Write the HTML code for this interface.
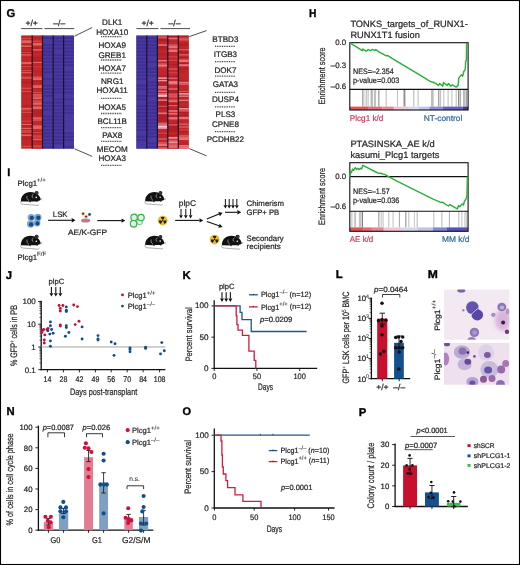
<!DOCTYPE html>
<html><head><meta charset="utf-8"><style>
html,body{margin:0;padding:0;background:#fff;}
svg{display:block;filter:blur(0.3px);text-rendering:geometricPrecision;font-family:"Liberation Sans",sans-serif;}
</style></head><body>
<svg width="520" height="565" viewBox="0 0 520 565" fill="#231f20">
<text x="6.6" y="16.5" font-size="11.3" font-weight="bold" fill="#000" stroke="#000" stroke-width="0.35">G</text>
<rect x="21.4" y="35.6" width="10.800000000000004" height="113.0" fill="#c0272a"/>
<rect x="21.4" y="35.6" width="10.800000000000004" height="1.5" fill="#c4282a"/>
<rect x="21.4" y="37.1" width="10.800000000000004" height="1.0" fill="#c4282a"/>
<rect x="21.4" y="38.1" width="10.800000000000004" height="1.4" fill="#d84a46"/>
<rect x="21.4" y="39.5" width="10.800000000000004" height="0.8" fill="#b82124"/>
<rect x="21.4" y="40.3" width="10.800000000000004" height="3.0" fill="#e4635f"/>
<rect x="21.4" y="43.3" width="10.800000000000004" height="1.0" fill="#c4282a"/>
<rect x="21.4" y="44.3" width="10.800000000000004" height="1.1" fill="#b82124"/>
<rect x="21.4" y="45.4" width="10.800000000000004" height="1.6" fill="#e4635f"/>
<rect x="21.4" y="47.0" width="10.800000000000004" height="1.1" fill="#b82124"/>
<rect x="21.4" y="48.1" width="10.800000000000004" height="2.0" fill="#c4282a"/>
<rect x="21.4" y="50.1" width="10.800000000000004" height="1.0" fill="#c4282a"/>
<rect x="21.4" y="51.1" width="10.800000000000004" height="1.1" fill="#b82124"/>
<rect x="21.4" y="52.2" width="10.800000000000004" height="1.0" fill="#d84a46"/>
<rect x="21.4" y="53.2" width="10.800000000000004" height="1.1" fill="#b82124"/>
<rect x="21.4" y="54.300000000000004" width="10.800000000000004" height="1.2" fill="#e4635f"/>
<rect x="21.4" y="55.50000000000001" width="10.800000000000004" height="1.0" fill="#d84a46"/>
<rect x="21.4" y="56.50000000000001" width="10.800000000000004" height="1.1" fill="#b82124"/>
<rect x="21.4" y="57.60000000000001" width="10.800000000000004" height="1.0" fill="#c4282a"/>
<rect x="21.4" y="58.60000000000001" width="10.800000000000004" height="2.0" fill="#c4282a"/>
<rect x="21.4" y="60.60000000000001" width="10.800000000000004" height="1.5" fill="#c4282a"/>
<rect x="21.4" y="62.10000000000001" width="10.800000000000004" height="2.2" fill="#e4635f"/>
<rect x="21.4" y="64.30000000000001" width="10.800000000000004" height="0.8" fill="#b82124"/>
<rect x="21.4" y="65.10000000000001" width="10.800000000000004" height="1.1" fill="#b82124"/>
<rect x="21.4" y="66.2" width="10.800000000000004" height="1.0" fill="#d84a46"/>
<rect x="21.4" y="67.2" width="10.800000000000004" height="2.0" fill="#c4282a"/>
<rect x="21.4" y="69.2" width="10.800000000000004" height="0.8" fill="#b82124"/>
<rect x="21.4" y="70.0" width="10.800000000000004" height="1.4" fill="#d84a46"/>
<rect x="21.4" y="71.4" width="10.800000000000004" height="0.8" fill="#b82124"/>
<rect x="21.4" y="72.2" width="10.800000000000004" height="1.2" fill="#e4635f"/>
<rect x="21.4" y="73.4" width="10.800000000000004" height="1.0" fill="#c4282a"/>
<rect x="21.4" y="74.4" width="10.800000000000004" height="1.1" fill="#b82124"/>
<rect x="21.4" y="75.5" width="10.800000000000004" height="1.1" fill="#b82124"/>
<rect x="21.4" y="76.6" width="10.800000000000004" height="1.4" fill="#d84a46"/>
<rect x="21.4" y="78.0" width="10.800000000000004" height="1.0" fill="#d84a46"/>
<rect x="21.4" y="79.0" width="10.800000000000004" height="1.1" fill="#b82124"/>
<rect x="21.4" y="80.1" width="10.800000000000004" height="1.0" fill="#c4282a"/>
<rect x="21.4" y="81.1" width="10.800000000000004" height="0.8" fill="#b82124"/>
<rect x="21.4" y="81.89999999999999" width="10.800000000000004" height="1.1" fill="#b82124"/>
<rect x="21.4" y="82.99999999999999" width="10.800000000000004" height="1.1" fill="#b82124"/>
<rect x="21.4" y="84.09999999999998" width="10.800000000000004" height="1.0" fill="#c4282a"/>
<rect x="21.4" y="85.09999999999998" width="10.800000000000004" height="1.0" fill="#c4282a"/>
<rect x="21.4" y="86.09999999999998" width="10.800000000000004" height="1.5" fill="#c4282a"/>
<rect x="21.4" y="87.59999999999998" width="10.800000000000004" height="1.4" fill="#d84a46"/>
<rect x="21.4" y="88.99999999999999" width="10.800000000000004" height="2.0" fill="#c4282a"/>
<rect x="21.4" y="90.99999999999999" width="10.800000000000004" height="1.4" fill="#d84a46"/>
<rect x="21.4" y="92.39999999999999" width="10.800000000000004" height="0.8" fill="#b82124"/>
<rect x="21.4" y="93.19999999999999" width="10.800000000000004" height="1.1" fill="#b82124"/>
<rect x="21.4" y="94.29999999999998" width="10.800000000000004" height="2.0" fill="#c4282a"/>
<rect x="21.4" y="96.29999999999998" width="10.800000000000004" height="1.0" fill="#c4282a"/>
<rect x="21.4" y="97.29999999999998" width="10.800000000000004" height="1.5" fill="#c4282a"/>
<rect x="21.4" y="98.79999999999998" width="10.800000000000004" height="0.8" fill="#b82124"/>
<rect x="21.4" y="99.59999999999998" width="10.800000000000004" height="2.0" fill="#c4282a"/>
<rect x="21.4" y="101.59999999999998" width="10.800000000000004" height="1.5" fill="#c4282a"/>
<rect x="21.4" y="103.09999999999998" width="10.800000000000004" height="1.0" fill="#c4282a"/>
<rect x="21.4" y="104.09999999999998" width="10.800000000000004" height="1.0" fill="#c4282a"/>
<rect x="21.4" y="105.09999999999998" width="10.800000000000004" height="1.1" fill="#b82124"/>
<rect x="21.4" y="106.19999999999997" width="10.800000000000004" height="0.8" fill="#b82124"/>
<rect x="21.4" y="106.99999999999997" width="10.800000000000004" height="1.0" fill="#c4282a"/>
<rect x="21.4" y="107.99999999999997" width="10.800000000000004" height="1.2" fill="#e4635f"/>
<rect x="21.4" y="109.19999999999997" width="10.800000000000004" height="1.4" fill="#d84a46"/>
<rect x="21.4" y="110.59999999999998" width="10.800000000000004" height="1.1" fill="#b82124"/>
<rect x="21.4" y="111.69999999999997" width="10.800000000000004" height="1.4" fill="#d84a46"/>
<rect x="21.4" y="113.09999999999998" width="10.800000000000004" height="1.1" fill="#b82124"/>
<rect x="21.4" y="114.19999999999997" width="10.800000000000004" height="1.5" fill="#c4282a"/>
<rect x="21.4" y="115.69999999999997" width="10.800000000000004" height="1.1" fill="#b82124"/>
<rect x="21.4" y="116.79999999999997" width="10.800000000000004" height="2.0" fill="#c4282a"/>
<rect x="21.4" y="118.79999999999997" width="10.800000000000004" height="2.0" fill="#c4282a"/>
<rect x="21.4" y="120.79999999999997" width="10.800000000000004" height="1.0" fill="#d84a46"/>
<rect x="21.4" y="121.79999999999997" width="10.800000000000004" height="1.0" fill="#c4282a"/>
<rect x="21.4" y="122.79999999999997" width="10.800000000000004" height="1.1" fill="#b82124"/>
<rect x="21.4" y="123.89999999999996" width="10.800000000000004" height="1.2" fill="#e4635f"/>
<rect x="21.4" y="125.09999999999997" width="10.800000000000004" height="1.1" fill="#b82124"/>
<rect x="21.4" y="126.19999999999996" width="10.800000000000004" height="0.8" fill="#b82124"/>
<rect x="21.4" y="126.99999999999996" width="10.800000000000004" height="0.8" fill="#b82124"/>
<rect x="21.4" y="127.79999999999995" width="10.800000000000004" height="1.2" fill="#e4635f"/>
<rect x="21.4" y="128.99999999999994" width="10.800000000000004" height="1.1" fill="#b82124"/>
<rect x="21.4" y="130.09999999999994" width="10.800000000000004" height="1.4" fill="#d84a46"/>
<rect x="21.4" y="131.49999999999994" width="10.800000000000004" height="1.4" fill="#d84a46"/>
<rect x="21.4" y="132.89999999999995" width="10.800000000000004" height="0.8" fill="#b82124"/>
<rect x="21.4" y="133.69999999999996" width="10.800000000000004" height="0.8" fill="#b82124"/>
<rect x="21.4" y="134.49999999999997" width="10.800000000000004" height="1.6" fill="#e4635f"/>
<rect x="21.4" y="136.09999999999997" width="10.800000000000004" height="1.0" fill="#c4282a"/>
<rect x="21.4" y="137.09999999999997" width="10.800000000000004" height="1.1" fill="#b82124"/>
<rect x="21.4" y="138.19999999999996" width="10.800000000000004" height="1.1" fill="#b82124"/>
<rect x="21.4" y="139.29999999999995" width="10.800000000000004" height="1.1" fill="#b82124"/>
<rect x="21.4" y="140.39999999999995" width="10.800000000000004" height="2.0" fill="#c4282a"/>
<rect x="21.4" y="142.39999999999995" width="10.800000000000004" height="1.5" fill="#c4282a"/>
<rect x="21.4" y="143.89999999999995" width="10.800000000000004" height="1.0" fill="#c4282a"/>
<rect x="21.4" y="144.89999999999995" width="10.800000000000004" height="0.8" fill="#b82124"/>
<rect x="21.4" y="145.69999999999996" width="10.800000000000004" height="1.4" fill="#d84a46"/>
<rect x="21.4" y="147.09999999999997" width="10.800000000000004" height="0.8" fill="#b82124"/>
<rect x="21.4" y="147.89999999999998" width="10.800000000000004" height="0.700000000000017" fill="#e4635f"/>
<rect x="32.2" y="35.6" width="10.299999999999997" height="113.0" fill="#c0272a"/>
<rect x="32.2" y="35.6" width="10.299999999999997" height="2.0" fill="#c4282a"/>
<rect x="32.2" y="37.6" width="10.299999999999997" height="1.1" fill="#b82124"/>
<rect x="32.2" y="38.7" width="10.299999999999997" height="2.0" fill="#c4282a"/>
<rect x="32.2" y="40.7" width="10.299999999999997" height="1.4" fill="#d84a46"/>
<rect x="32.2" y="42.1" width="10.299999999999997" height="0.8" fill="#b82124"/>
<rect x="32.2" y="42.9" width="10.299999999999997" height="2.2" fill="#e4635f"/>
<rect x="32.2" y="45.1" width="10.299999999999997" height="1.0" fill="#d84a46"/>
<rect x="32.2" y="46.1" width="10.299999999999997" height="1.5" fill="#c4282a"/>
<rect x="32.2" y="47.6" width="10.299999999999997" height="0.8" fill="#b82124"/>
<rect x="32.2" y="48.4" width="10.299999999999997" height="0.8" fill="#b82124"/>
<rect x="32.2" y="49.199999999999996" width="10.299999999999997" height="1.6" fill="#e4635f"/>
<rect x="32.2" y="50.8" width="10.299999999999997" height="0.8" fill="#b82124"/>
<rect x="32.2" y="51.599999999999994" width="10.299999999999997" height="1.1" fill="#b82124"/>
<rect x="32.2" y="52.699999999999996" width="10.299999999999997" height="1.0" fill="#c4282a"/>
<rect x="32.2" y="53.699999999999996" width="10.299999999999997" height="2.0" fill="#c4282a"/>
<rect x="32.2" y="55.699999999999996" width="10.299999999999997" height="1.0" fill="#c4282a"/>
<rect x="32.2" y="56.699999999999996" width="10.299999999999997" height="1.1" fill="#b82124"/>
<rect x="32.2" y="57.8" width="10.299999999999997" height="1.1" fill="#b82124"/>
<rect x="32.2" y="58.9" width="10.299999999999997" height="0.8" fill="#b82124"/>
<rect x="32.2" y="59.699999999999996" width="10.299999999999997" height="1.1" fill="#b82124"/>
<rect x="32.2" y="60.8" width="10.299999999999997" height="1.1" fill="#b82124"/>
<rect x="32.2" y="61.9" width="10.299999999999997" height="1.2" fill="#e4635f"/>
<rect x="32.2" y="63.1" width="10.299999999999997" height="1.5" fill="#c4282a"/>
<rect x="32.2" y="64.6" width="10.299999999999997" height="1.0" fill="#c4282a"/>
<rect x="32.2" y="65.6" width="10.299999999999997" height="0.8" fill="#b82124"/>
<rect x="32.2" y="66.39999999999999" width="10.299999999999997" height="1.0" fill="#d84a46"/>
<rect x="32.2" y="67.39999999999999" width="10.299999999999997" height="2.0" fill="#c4282a"/>
<rect x="32.2" y="69.39999999999999" width="10.299999999999997" height="1.0" fill="#c4282a"/>
<rect x="32.2" y="70.39999999999999" width="10.299999999999997" height="1.0" fill="#c4282a"/>
<rect x="32.2" y="71.39999999999999" width="10.299999999999997" height="1.1" fill="#b82124"/>
<rect x="32.2" y="72.49999999999999" width="10.299999999999997" height="1.5" fill="#c4282a"/>
<rect x="32.2" y="73.99999999999999" width="10.299999999999997" height="1.5" fill="#c4282a"/>
<rect x="32.2" y="75.49999999999999" width="10.299999999999997" height="0.8" fill="#b82124"/>
<rect x="32.2" y="76.29999999999998" width="10.299999999999997" height="1.0" fill="#d84a46"/>
<rect x="32.2" y="77.29999999999998" width="10.299999999999997" height="3.0" fill="#e4635f"/>
<rect x="32.2" y="80.29999999999998" width="10.299999999999997" height="0.8" fill="#b82124"/>
<rect x="32.2" y="81.09999999999998" width="10.299999999999997" height="0.8" fill="#b82124"/>
<rect x="32.2" y="81.89999999999998" width="10.299999999999997" height="1.0" fill="#c4282a"/>
<rect x="32.2" y="82.89999999999998" width="10.299999999999997" height="0.8" fill="#b82124"/>
<rect x="32.2" y="83.69999999999997" width="10.299999999999997" height="1.5" fill="#c4282a"/>
<rect x="32.2" y="85.19999999999997" width="10.299999999999997" height="3.0" fill="#e4635f"/>
<rect x="32.2" y="88.19999999999997" width="10.299999999999997" height="0.8" fill="#b82124"/>
<rect x="32.2" y="88.99999999999997" width="10.299999999999997" height="2.0" fill="#c4282a"/>
<rect x="32.2" y="90.99999999999997" width="10.299999999999997" height="1.0" fill="#c4282a"/>
<rect x="32.2" y="91.99999999999997" width="10.299999999999997" height="1.4" fill="#d84a46"/>
<rect x="32.2" y="93.39999999999998" width="10.299999999999997" height="0.8" fill="#b82124"/>
<rect x="32.2" y="94.19999999999997" width="10.299999999999997" height="1.6" fill="#e4635f"/>
<rect x="32.2" y="95.79999999999997" width="10.299999999999997" height="1.4" fill="#d84a46"/>
<rect x="32.2" y="97.19999999999997" width="10.299999999999997" height="2.2" fill="#e4635f"/>
<rect x="32.2" y="99.39999999999998" width="10.299999999999997" height="1.1" fill="#b82124"/>
<rect x="32.2" y="100.49999999999997" width="10.299999999999997" height="1.2" fill="#e4635f"/>
<rect x="32.2" y="101.69999999999997" width="10.299999999999997" height="1.0" fill="#d84a46"/>
<rect x="32.2" y="102.69999999999997" width="10.299999999999997" height="2.2" fill="#e4635f"/>
<rect x="32.2" y="104.89999999999998" width="10.299999999999997" height="1.5" fill="#c4282a"/>
<rect x="32.2" y="106.39999999999998" width="10.299999999999997" height="3.0" fill="#e4635f"/>
<rect x="32.2" y="109.39999999999998" width="10.299999999999997" height="0.8" fill="#b82124"/>
<rect x="32.2" y="110.19999999999997" width="10.299999999999997" height="0.8" fill="#b82124"/>
<rect x="32.2" y="110.99999999999997" width="10.299999999999997" height="1.1" fill="#b82124"/>
<rect x="32.2" y="112.09999999999997" width="10.299999999999997" height="0.8" fill="#b82124"/>
<rect x="32.2" y="112.89999999999996" width="10.299999999999997" height="0.8" fill="#b82124"/>
<rect x="32.2" y="113.69999999999996" width="10.299999999999997" height="0.8" fill="#b82124"/>
<rect x="32.2" y="114.49999999999996" width="10.299999999999997" height="1.1" fill="#b82124"/>
<rect x="32.2" y="115.59999999999995" width="10.299999999999997" height="0.8" fill="#b82124"/>
<rect x="32.2" y="116.39999999999995" width="10.299999999999997" height="1.0" fill="#c4282a"/>
<rect x="32.2" y="117.39999999999995" width="10.299999999999997" height="2.2" fill="#e4635f"/>
<rect x="32.2" y="119.59999999999995" width="10.299999999999997" height="1.4" fill="#d84a46"/>
<rect x="32.2" y="120.99999999999996" width="10.299999999999997" height="2.0" fill="#c4282a"/>
<rect x="32.2" y="122.99999999999996" width="10.299999999999997" height="2.0" fill="#c4282a"/>
<rect x="32.2" y="124.99999999999996" width="10.299999999999997" height="1.0" fill="#d84a46"/>
<rect x="32.2" y="125.99999999999996" width="10.299999999999997" height="3.0" fill="#e4635f"/>
<rect x="32.2" y="128.99999999999994" width="10.299999999999997" height="2.0" fill="#c4282a"/>
<rect x="32.2" y="130.99999999999994" width="10.299999999999997" height="1.1" fill="#b82124"/>
<rect x="32.2" y="132.09999999999994" width="10.299999999999997" height="1.0" fill="#d84a46"/>
<rect x="32.2" y="133.09999999999994" width="10.299999999999997" height="0.8" fill="#b82124"/>
<rect x="32.2" y="133.89999999999995" width="10.299999999999997" height="1.5" fill="#c4282a"/>
<rect x="32.2" y="135.39999999999995" width="10.299999999999997" height="1.0" fill="#d84a46"/>
<rect x="32.2" y="136.39999999999995" width="10.299999999999997" height="1.4" fill="#d84a46"/>
<rect x="32.2" y="137.79999999999995" width="10.299999999999997" height="1.0" fill="#c4282a"/>
<rect x="32.2" y="138.79999999999995" width="10.299999999999997" height="1.6" fill="#e4635f"/>
<rect x="32.2" y="140.39999999999995" width="10.299999999999997" height="1.1" fill="#b82124"/>
<rect x="32.2" y="141.49999999999994" width="10.299999999999997" height="0.8" fill="#b82124"/>
<rect x="32.2" y="142.29999999999995" width="10.299999999999997" height="1.0" fill="#c4282a"/>
<rect x="32.2" y="143.29999999999995" width="10.299999999999997" height="1.5" fill="#c4282a"/>
<rect x="32.2" y="144.79999999999995" width="10.299999999999997" height="0.8" fill="#b82124"/>
<rect x="32.2" y="145.59999999999997" width="10.299999999999997" height="1.2" fill="#e4635f"/>
<rect x="32.2" y="146.79999999999995" width="10.299999999999997" height="1.8000000000000398" fill="#c4282a"/>
<rect x="42.5" y="35.6" width="10.700000000000003" height="113.0" fill="#45349a"/>
<rect x="42.5" y="35.6" width="10.700000000000003" height="1.7" fill="#4a399f"/>
<rect x="42.5" y="37.300000000000004" width="10.700000000000003" height="1.7" fill="#3f2f95"/>
<rect x="42.5" y="39.00000000000001" width="10.700000000000003" height="1.7" fill="#4a399f"/>
<rect x="42.5" y="40.70000000000001" width="10.700000000000003" height="1.7" fill="#4c3ca2"/>
<rect x="42.5" y="42.40000000000001" width="10.700000000000003" height="1.7" fill="#4c3ca2"/>
<rect x="42.5" y="44.100000000000016" width="10.700000000000003" height="1.7" fill="#3f2f95"/>
<rect x="42.5" y="45.80000000000002" width="10.700000000000003" height="1.7" fill="#4a399f"/>
<rect x="42.5" y="47.50000000000002" width="10.700000000000003" height="1.7" fill="#3f2f95"/>
<rect x="42.5" y="49.200000000000024" width="10.700000000000003" height="1.7" fill="#4a399f"/>
<rect x="42.5" y="50.90000000000003" width="10.700000000000003" height="1.7" fill="#3f2f95"/>
<rect x="42.5" y="52.60000000000003" width="10.700000000000003" height="1.7" fill="#4a399f"/>
<rect x="42.5" y="54.30000000000003" width="10.700000000000003" height="1.7" fill="#3f2f95"/>
<rect x="42.5" y="56.000000000000036" width="10.700000000000003" height="1.7" fill="#4c3ca2"/>
<rect x="42.5" y="57.70000000000004" width="10.700000000000003" height="1.7" fill="#3f2f95"/>
<rect x="42.5" y="59.40000000000004" width="10.700000000000003" height="1.7" fill="#4a399f"/>
<rect x="42.5" y="61.100000000000044" width="10.700000000000003" height="1.7" fill="#3f2f95"/>
<rect x="42.5" y="62.80000000000005" width="10.700000000000003" height="1.7" fill="#4c3ca2"/>
<rect x="42.5" y="64.50000000000004" width="10.700000000000003" height="1.7" fill="#3f2f95"/>
<rect x="42.5" y="66.20000000000005" width="10.700000000000003" height="1.7" fill="#4c3ca2"/>
<rect x="42.5" y="67.90000000000005" width="10.700000000000003" height="1.7" fill="#3f2f95"/>
<rect x="42.5" y="69.60000000000005" width="10.700000000000003" height="1.7" fill="#4a399f"/>
<rect x="42.5" y="71.30000000000005" width="10.700000000000003" height="1.7" fill="#3f2f95"/>
<rect x="42.5" y="73.00000000000006" width="10.700000000000003" height="1.7" fill="#4a399f"/>
<rect x="42.5" y="74.70000000000006" width="10.700000000000003" height="1.7" fill="#4c3ca2"/>
<rect x="42.5" y="76.40000000000006" width="10.700000000000003" height="1.7" fill="#4c3ca2"/>
<rect x="42.5" y="78.10000000000007" width="10.700000000000003" height="1.7" fill="#3f2f95"/>
<rect x="42.5" y="79.80000000000007" width="10.700000000000003" height="1.7" fill="#4a399f"/>
<rect x="42.5" y="81.50000000000007" width="10.700000000000003" height="1.7" fill="#4c3ca2"/>
<rect x="42.5" y="83.20000000000007" width="10.700000000000003" height="1.7" fill="#4a399f"/>
<rect x="42.5" y="84.90000000000008" width="10.700000000000003" height="1.7" fill="#3f2f95"/>
<rect x="42.5" y="86.60000000000008" width="10.700000000000003" height="1.7" fill="#4c3ca2"/>
<rect x="42.5" y="88.30000000000008" width="10.700000000000003" height="1.7" fill="#3f2f95"/>
<rect x="42.5" y="90.00000000000009" width="10.700000000000003" height="1.7" fill="#4c3ca2"/>
<rect x="42.5" y="91.70000000000009" width="10.700000000000003" height="1.7" fill="#3f2f95"/>
<rect x="42.5" y="93.40000000000009" width="10.700000000000003" height="1.7" fill="#4a399f"/>
<rect x="42.5" y="95.1000000000001" width="10.700000000000003" height="1.7" fill="#3f2f95"/>
<rect x="42.5" y="96.8000000000001" width="10.700000000000003" height="1.7" fill="#4a399f"/>
<rect x="42.5" y="98.5000000000001" width="10.700000000000003" height="1.7" fill="#4c3ca2"/>
<rect x="42.5" y="100.2000000000001" width="10.700000000000003" height="1.7" fill="#4a399f"/>
<rect x="42.5" y="101.9000000000001" width="10.700000000000003" height="1.7" fill="#3f2f95"/>
<rect x="42.5" y="103.60000000000011" width="10.700000000000003" height="1.7" fill="#4a399f"/>
<rect x="42.5" y="105.30000000000011" width="10.700000000000003" height="1.7" fill="#3f2f95"/>
<rect x="42.5" y="107.00000000000011" width="10.700000000000003" height="1.7" fill="#4a399f"/>
<rect x="42.5" y="108.70000000000012" width="10.700000000000003" height="1.7" fill="#3f2f95"/>
<rect x="42.5" y="110.40000000000012" width="10.700000000000003" height="1.7" fill="#4a399f"/>
<rect x="42.5" y="112.10000000000012" width="10.700000000000003" height="1.7" fill="#4c3ca2"/>
<rect x="42.5" y="113.80000000000013" width="10.700000000000003" height="1.7" fill="#4a399f"/>
<rect x="42.5" y="115.50000000000013" width="10.700000000000003" height="1.7" fill="#3f2f95"/>
<rect x="42.5" y="117.20000000000013" width="10.700000000000003" height="1.7" fill="#4a399f"/>
<rect x="42.5" y="118.90000000000013" width="10.700000000000003" height="1.7" fill="#3f2f95"/>
<rect x="42.5" y="120.60000000000014" width="10.700000000000003" height="1.7" fill="#4a399f"/>
<rect x="42.5" y="122.30000000000014" width="10.700000000000003" height="1.7" fill="#3f2f95"/>
<rect x="42.5" y="124.00000000000014" width="10.700000000000003" height="1.7" fill="#4a399f"/>
<rect x="42.5" y="125.70000000000014" width="10.700000000000003" height="1.7" fill="#3f2f95"/>
<rect x="42.5" y="127.40000000000015" width="10.700000000000003" height="1.7" fill="#4c3ca2"/>
<rect x="42.5" y="129.10000000000014" width="10.700000000000003" height="1.7" fill="#3f2f95"/>
<rect x="42.5" y="130.80000000000013" width="10.700000000000003" height="1.7" fill="#4a399f"/>
<rect x="42.5" y="132.5000000000001" width="10.700000000000003" height="1.7" fill="#3f2f95"/>
<rect x="42.5" y="134.2000000000001" width="10.700000000000003" height="1.7" fill="#4a399f"/>
<rect x="42.5" y="135.9000000000001" width="10.700000000000003" height="1.7" fill="#3f2f95"/>
<rect x="42.5" y="137.60000000000008" width="10.700000000000003" height="1.7" fill="#4c3ca2"/>
<rect x="42.5" y="139.30000000000007" width="10.700000000000003" height="1.7" fill="#3f2f95"/>
<rect x="42.5" y="141.00000000000006" width="10.700000000000003" height="1.7" fill="#4a399f"/>
<rect x="42.5" y="142.70000000000005" width="10.700000000000003" height="1.7" fill="#3f2f95"/>
<rect x="42.5" y="144.40000000000003" width="10.700000000000003" height="1.7" fill="#4a399f"/>
<rect x="42.5" y="146.10000000000002" width="10.700000000000003" height="1.7" fill="#3f2f95"/>
<rect x="42.5" y="147.8" width="10.700000000000003" height="0.799999999999983" fill="#4a399f"/>
<rect x="53.2" y="35.6" width="10.399999999999999" height="113.0" fill="#45349a"/>
<rect x="53.2" y="35.6" width="10.399999999999999" height="1.7" fill="#4a399f"/>
<rect x="53.2" y="37.300000000000004" width="10.399999999999999" height="1.7" fill="#3f2f95"/>
<rect x="53.2" y="39.00000000000001" width="10.399999999999999" height="1.7" fill="#4a399f"/>
<rect x="53.2" y="40.70000000000001" width="10.399999999999999" height="1.7" fill="#3f2f95"/>
<rect x="53.2" y="42.40000000000001" width="10.399999999999999" height="1.7" fill="#4a399f"/>
<rect x="53.2" y="44.100000000000016" width="10.399999999999999" height="1.7" fill="#3f2f95"/>
<rect x="53.2" y="45.80000000000002" width="10.399999999999999" height="1.7" fill="#4c3ca2"/>
<rect x="53.2" y="47.50000000000002" width="10.399999999999999" height="1.7" fill="#3f2f95"/>
<rect x="53.2" y="49.200000000000024" width="10.399999999999999" height="1.7" fill="#4a399f"/>
<rect x="53.2" y="50.90000000000003" width="10.399999999999999" height="1.7" fill="#4c3ca2"/>
<rect x="53.2" y="52.60000000000003" width="10.399999999999999" height="1.7" fill="#4a399f"/>
<rect x="53.2" y="54.30000000000003" width="10.399999999999999" height="1.7" fill="#3f2f95"/>
<rect x="53.2" y="56.000000000000036" width="10.399999999999999" height="1.7" fill="#4a399f"/>
<rect x="53.2" y="57.70000000000004" width="10.399999999999999" height="1.7" fill="#3f2f95"/>
<rect x="53.2" y="59.40000000000004" width="10.399999999999999" height="1.7" fill="#4a399f"/>
<rect x="53.2" y="61.100000000000044" width="10.399999999999999" height="1.7" fill="#3f2f95"/>
<rect x="53.2" y="62.80000000000005" width="10.399999999999999" height="1.7" fill="#4c3ca2"/>
<rect x="53.2" y="64.50000000000004" width="10.399999999999999" height="1.7" fill="#3f2f95"/>
<rect x="53.2" y="66.20000000000005" width="10.399999999999999" height="1.7" fill="#4c3ca2"/>
<rect x="53.2" y="67.90000000000005" width="10.399999999999999" height="1.7" fill="#3f2f95"/>
<rect x="53.2" y="69.60000000000005" width="10.399999999999999" height="1.7" fill="#4a399f"/>
<rect x="53.2" y="71.30000000000005" width="10.399999999999999" height="1.7" fill="#3f2f95"/>
<rect x="53.2" y="73.00000000000006" width="10.399999999999999" height="1.7" fill="#4a399f"/>
<rect x="53.2" y="74.70000000000006" width="10.399999999999999" height="1.7" fill="#3f2f95"/>
<rect x="53.2" y="76.40000000000006" width="10.399999999999999" height="1.7" fill="#4a399f"/>
<rect x="53.2" y="78.10000000000007" width="10.399999999999999" height="1.7" fill="#3f2f95"/>
<rect x="53.2" y="79.80000000000007" width="10.399999999999999" height="1.7" fill="#4a399f"/>
<rect x="53.2" y="81.50000000000007" width="10.399999999999999" height="1.7" fill="#3f2f95"/>
<rect x="53.2" y="83.20000000000007" width="10.399999999999999" height="1.7" fill="#4a399f"/>
<rect x="53.2" y="84.90000000000008" width="10.399999999999999" height="1.7" fill="#3f2f95"/>
<rect x="53.2" y="86.60000000000008" width="10.399999999999999" height="1.7" fill="#4a399f"/>
<rect x="53.2" y="88.30000000000008" width="10.399999999999999" height="1.7" fill="#3f2f95"/>
<rect x="53.2" y="90.00000000000009" width="10.399999999999999" height="1.7" fill="#4a399f"/>
<rect x="53.2" y="91.70000000000009" width="10.399999999999999" height="1.7" fill="#3f2f95"/>
<rect x="53.2" y="93.40000000000009" width="10.399999999999999" height="1.7" fill="#4a399f"/>
<rect x="53.2" y="95.1000000000001" width="10.399999999999999" height="1.7" fill="#4c3ca2"/>
<rect x="53.2" y="96.8000000000001" width="10.399999999999999" height="1.7" fill="#4a399f"/>
<rect x="53.2" y="98.5000000000001" width="10.399999999999999" height="1.7" fill="#3f2f95"/>
<rect x="53.2" y="100.2000000000001" width="10.399999999999999" height="1.7" fill="#4a399f"/>
<rect x="53.2" y="101.9000000000001" width="10.399999999999999" height="1.7" fill="#3f2f95"/>
<rect x="53.2" y="103.60000000000011" width="10.399999999999999" height="1.7" fill="#4a399f"/>
<rect x="53.2" y="105.30000000000011" width="10.399999999999999" height="1.7" fill="#3f2f95"/>
<rect x="53.2" y="107.00000000000011" width="10.399999999999999" height="1.7" fill="#4c3ca2"/>
<rect x="53.2" y="108.70000000000012" width="10.399999999999999" height="1.7" fill="#3f2f95"/>
<rect x="53.2" y="110.40000000000012" width="10.399999999999999" height="1.7" fill="#4a399f"/>
<rect x="53.2" y="112.10000000000012" width="10.399999999999999" height="1.7" fill="#3f2f95"/>
<rect x="53.2" y="113.80000000000013" width="10.399999999999999" height="1.7" fill="#4a399f"/>
<rect x="53.2" y="115.50000000000013" width="10.399999999999999" height="1.7" fill="#3f2f95"/>
<rect x="53.2" y="117.20000000000013" width="10.399999999999999" height="1.7" fill="#4a399f"/>
<rect x="53.2" y="118.90000000000013" width="10.399999999999999" height="1.7" fill="#3f2f95"/>
<rect x="53.2" y="120.60000000000014" width="10.399999999999999" height="1.7" fill="#4a399f"/>
<rect x="53.2" y="122.30000000000014" width="10.399999999999999" height="1.7" fill="#3f2f95"/>
<rect x="53.2" y="124.00000000000014" width="10.399999999999999" height="1.7" fill="#4c3ca2"/>
<rect x="53.2" y="125.70000000000014" width="10.399999999999999" height="1.7" fill="#3f2f95"/>
<rect x="53.2" y="127.40000000000015" width="10.399999999999999" height="1.7" fill="#4a399f"/>
<rect x="53.2" y="129.10000000000014" width="10.399999999999999" height="1.7" fill="#3f2f95"/>
<rect x="53.2" y="130.80000000000013" width="10.399999999999999" height="1.7" fill="#4a399f"/>
<rect x="53.2" y="132.5000000000001" width="10.399999999999999" height="1.7" fill="#3f2f95"/>
<rect x="53.2" y="134.2000000000001" width="10.399999999999999" height="1.7" fill="#4c3ca2"/>
<rect x="53.2" y="135.9000000000001" width="10.399999999999999" height="1.7" fill="#3f2f95"/>
<rect x="53.2" y="137.60000000000008" width="10.399999999999999" height="1.7" fill="#4a399f"/>
<rect x="53.2" y="139.30000000000007" width="10.399999999999999" height="1.7" fill="#3f2f95"/>
<rect x="53.2" y="141.00000000000006" width="10.399999999999999" height="1.7" fill="#4a399f"/>
<rect x="53.2" y="142.70000000000005" width="10.399999999999999" height="1.7" fill="#3f2f95"/>
<rect x="53.2" y="144.40000000000003" width="10.399999999999999" height="1.7" fill="#4c3ca2"/>
<rect x="53.2" y="146.10000000000002" width="10.399999999999999" height="1.7" fill="#4c3ca2"/>
<rect x="53.2" y="147.8" width="10.399999999999999" height="0.799999999999983" fill="#4a399f"/>
<rect x="63.6" y="35.6" width="10.300000000000004" height="113.0" fill="#45349a"/>
<rect x="63.6" y="35.6" width="10.300000000000004" height="1.7" fill="#4c3ca2"/>
<rect x="63.6" y="37.300000000000004" width="10.300000000000004" height="1.7" fill="#3f2f95"/>
<rect x="63.6" y="39.00000000000001" width="10.300000000000004" height="1.7" fill="#4a399f"/>
<rect x="63.6" y="40.70000000000001" width="10.300000000000004" height="1.7" fill="#3f2f95"/>
<rect x="63.6" y="42.40000000000001" width="10.300000000000004" height="1.7" fill="#4a399f"/>
<rect x="63.6" y="44.100000000000016" width="10.300000000000004" height="1.7" fill="#3f2f95"/>
<rect x="63.6" y="45.80000000000002" width="10.300000000000004" height="1.7" fill="#4a399f"/>
<rect x="63.6" y="47.50000000000002" width="10.300000000000004" height="1.7" fill="#3f2f95"/>
<rect x="63.6" y="49.200000000000024" width="10.300000000000004" height="1.7" fill="#4a399f"/>
<rect x="63.6" y="50.90000000000003" width="10.300000000000004" height="1.7" fill="#3f2f95"/>
<rect x="63.6" y="52.60000000000003" width="10.300000000000004" height="1.7" fill="#4a399f"/>
<rect x="63.6" y="54.30000000000003" width="10.300000000000004" height="1.7" fill="#3f2f95"/>
<rect x="63.6" y="56.000000000000036" width="10.300000000000004" height="1.7" fill="#4c3ca2"/>
<rect x="63.6" y="57.70000000000004" width="10.300000000000004" height="1.7" fill="#3f2f95"/>
<rect x="63.6" y="59.40000000000004" width="10.300000000000004" height="1.7" fill="#4a399f"/>
<rect x="63.6" y="61.100000000000044" width="10.300000000000004" height="1.7" fill="#3f2f95"/>
<rect x="63.6" y="62.80000000000005" width="10.300000000000004" height="1.7" fill="#4a399f"/>
<rect x="63.6" y="64.50000000000004" width="10.300000000000004" height="1.7" fill="#3f2f95"/>
<rect x="63.6" y="66.20000000000005" width="10.300000000000004" height="1.7" fill="#4a399f"/>
<rect x="63.6" y="67.90000000000005" width="10.300000000000004" height="1.7" fill="#4c3ca2"/>
<rect x="63.6" y="69.60000000000005" width="10.300000000000004" height="1.7" fill="#4a399f"/>
<rect x="63.6" y="71.30000000000005" width="10.300000000000004" height="1.7" fill="#3f2f95"/>
<rect x="63.6" y="73.00000000000006" width="10.300000000000004" height="1.7" fill="#4a399f"/>
<rect x="63.6" y="74.70000000000006" width="10.300000000000004" height="1.7" fill="#3f2f95"/>
<rect x="63.6" y="76.40000000000006" width="10.300000000000004" height="1.7" fill="#4c3ca2"/>
<rect x="63.6" y="78.10000000000007" width="10.300000000000004" height="1.7" fill="#3f2f95"/>
<rect x="63.6" y="79.80000000000007" width="10.300000000000004" height="1.7" fill="#4c3ca2"/>
<rect x="63.6" y="81.50000000000007" width="10.300000000000004" height="1.7" fill="#3f2f95"/>
<rect x="63.6" y="83.20000000000007" width="10.300000000000004" height="1.7" fill="#4a399f"/>
<rect x="63.6" y="84.90000000000008" width="10.300000000000004" height="1.7" fill="#3f2f95"/>
<rect x="63.6" y="86.60000000000008" width="10.300000000000004" height="1.7" fill="#4a399f"/>
<rect x="63.6" y="88.30000000000008" width="10.300000000000004" height="1.7" fill="#3f2f95"/>
<rect x="63.6" y="90.00000000000009" width="10.300000000000004" height="1.7" fill="#4a399f"/>
<rect x="63.6" y="91.70000000000009" width="10.300000000000004" height="1.7" fill="#3f2f95"/>
<rect x="63.6" y="93.40000000000009" width="10.300000000000004" height="1.7" fill="#4a399f"/>
<rect x="63.6" y="95.1000000000001" width="10.300000000000004" height="1.7" fill="#4c3ca2"/>
<rect x="63.6" y="96.8000000000001" width="10.300000000000004" height="1.7" fill="#4a399f"/>
<rect x="63.6" y="98.5000000000001" width="10.300000000000004" height="1.7" fill="#3f2f95"/>
<rect x="63.6" y="100.2000000000001" width="10.300000000000004" height="1.7" fill="#4a399f"/>
<rect x="63.6" y="101.9000000000001" width="10.300000000000004" height="1.7" fill="#4c3ca2"/>
<rect x="63.6" y="103.60000000000011" width="10.300000000000004" height="1.7" fill="#4a399f"/>
<rect x="63.6" y="105.30000000000011" width="10.300000000000004" height="1.7" fill="#3f2f95"/>
<rect x="63.6" y="107.00000000000011" width="10.300000000000004" height="1.7" fill="#4a399f"/>
<rect x="63.6" y="108.70000000000012" width="10.300000000000004" height="1.7" fill="#3f2f95"/>
<rect x="63.6" y="110.40000000000012" width="10.300000000000004" height="1.7" fill="#4a399f"/>
<rect x="63.6" y="112.10000000000012" width="10.300000000000004" height="1.7" fill="#3f2f95"/>
<rect x="63.6" y="113.80000000000013" width="10.300000000000004" height="1.7" fill="#4a399f"/>
<rect x="63.6" y="115.50000000000013" width="10.300000000000004" height="1.7" fill="#4c3ca2"/>
<rect x="63.6" y="117.20000000000013" width="10.300000000000004" height="1.7" fill="#4a399f"/>
<rect x="63.6" y="118.90000000000013" width="10.300000000000004" height="1.7" fill="#4c3ca2"/>
<rect x="63.6" y="120.60000000000014" width="10.300000000000004" height="1.7" fill="#4a399f"/>
<rect x="63.6" y="122.30000000000014" width="10.300000000000004" height="1.7" fill="#4c3ca2"/>
<rect x="63.6" y="124.00000000000014" width="10.300000000000004" height="1.7" fill="#4a399f"/>
<rect x="63.6" y="125.70000000000014" width="10.300000000000004" height="1.7" fill="#4c3ca2"/>
<rect x="63.6" y="127.40000000000015" width="10.300000000000004" height="1.7" fill="#4a399f"/>
<rect x="63.6" y="129.10000000000014" width="10.300000000000004" height="1.7" fill="#4c3ca2"/>
<rect x="63.6" y="130.80000000000013" width="10.300000000000004" height="1.7" fill="#4a399f"/>
<rect x="63.6" y="132.5000000000001" width="10.300000000000004" height="1.7" fill="#3f2f95"/>
<rect x="63.6" y="134.2000000000001" width="10.300000000000004" height="1.7" fill="#4a399f"/>
<rect x="63.6" y="135.9000000000001" width="10.300000000000004" height="1.7" fill="#3f2f95"/>
<rect x="63.6" y="137.60000000000008" width="10.300000000000004" height="1.7" fill="#4a399f"/>
<rect x="63.6" y="139.30000000000007" width="10.300000000000004" height="1.7" fill="#3f2f95"/>
<rect x="63.6" y="141.00000000000006" width="10.300000000000004" height="1.7" fill="#4a399f"/>
<rect x="63.6" y="142.70000000000005" width="10.300000000000004" height="1.7" fill="#4c3ca2"/>
<rect x="63.6" y="144.40000000000003" width="10.300000000000004" height="1.7" fill="#4a399f"/>
<rect x="63.6" y="146.10000000000002" width="10.300000000000004" height="1.7" fill="#3f2f95"/>
<rect x="63.6" y="147.8" width="10.300000000000004" height="0.799999999999983" fill="#4a399f"/>
<line x1="32.2" y1="35.6" x2="32.2" y2="148.6" stroke="#1c1030" stroke-width="1.2"/>
<line x1="42.5" y1="35.6" x2="42.5" y2="148.6" stroke="#1c1030" stroke-width="1.2"/>
<line x1="53.2" y1="35.6" x2="53.2" y2="148.6" stroke="#1c1030" stroke-width="1.2"/>
<line x1="63.6" y1="35.6" x2="63.6" y2="148.6" stroke="#1c1030" stroke-width="1.2"/>
<rect x="136.4" y="35.6" width="10.400000000000006" height="113.0" fill="#45349a"/>
<rect x="136.4" y="35.6" width="10.400000000000006" height="1.7" fill="#4a399f"/>
<rect x="136.4" y="37.300000000000004" width="10.400000000000006" height="1.7" fill="#3f2f95"/>
<rect x="136.4" y="39.00000000000001" width="10.400000000000006" height="1.7" fill="#4a399f"/>
<rect x="136.4" y="40.70000000000001" width="10.400000000000006" height="1.7" fill="#3f2f95"/>
<rect x="136.4" y="42.40000000000001" width="10.400000000000006" height="1.7" fill="#4a399f"/>
<rect x="136.4" y="44.100000000000016" width="10.400000000000006" height="1.7" fill="#3f2f95"/>
<rect x="136.4" y="45.80000000000002" width="10.400000000000006" height="1.7" fill="#4a399f"/>
<rect x="136.4" y="47.50000000000002" width="10.400000000000006" height="1.7" fill="#3f2f95"/>
<rect x="136.4" y="49.200000000000024" width="10.400000000000006" height="1.7" fill="#4a399f"/>
<rect x="136.4" y="50.90000000000003" width="10.400000000000006" height="1.7" fill="#3f2f95"/>
<rect x="136.4" y="52.60000000000003" width="10.400000000000006" height="1.7" fill="#4a399f"/>
<rect x="136.4" y="54.30000000000003" width="10.400000000000006" height="1.7" fill="#3f2f95"/>
<rect x="136.4" y="56.000000000000036" width="10.400000000000006" height="1.7" fill="#4c3ca2"/>
<rect x="136.4" y="57.70000000000004" width="10.400000000000006" height="1.7" fill="#3f2f95"/>
<rect x="136.4" y="59.40000000000004" width="10.400000000000006" height="1.7" fill="#4a399f"/>
<rect x="136.4" y="61.100000000000044" width="10.400000000000006" height="1.7" fill="#3f2f95"/>
<rect x="136.4" y="62.80000000000005" width="10.400000000000006" height="1.7" fill="#4a399f"/>
<rect x="136.4" y="64.50000000000004" width="10.400000000000006" height="1.7" fill="#3f2f95"/>
<rect x="136.4" y="66.20000000000005" width="10.400000000000006" height="1.7" fill="#4a399f"/>
<rect x="136.4" y="67.90000000000005" width="10.400000000000006" height="1.7" fill="#3f2f95"/>
<rect x="136.4" y="69.60000000000005" width="10.400000000000006" height="1.7" fill="#4a399f"/>
<rect x="136.4" y="71.30000000000005" width="10.400000000000006" height="1.7" fill="#3f2f95"/>
<rect x="136.4" y="73.00000000000006" width="10.400000000000006" height="1.7" fill="#4a399f"/>
<rect x="136.4" y="74.70000000000006" width="10.400000000000006" height="1.7" fill="#3f2f95"/>
<rect x="136.4" y="76.40000000000006" width="10.400000000000006" height="1.7" fill="#4c3ca2"/>
<rect x="136.4" y="78.10000000000007" width="10.400000000000006" height="1.7" fill="#3f2f95"/>
<rect x="136.4" y="79.80000000000007" width="10.400000000000006" height="1.7" fill="#4c3ca2"/>
<rect x="136.4" y="81.50000000000007" width="10.400000000000006" height="1.7" fill="#4c3ca2"/>
<rect x="136.4" y="83.20000000000007" width="10.400000000000006" height="1.7" fill="#4a399f"/>
<rect x="136.4" y="84.90000000000008" width="10.400000000000006" height="1.7" fill="#3f2f95"/>
<rect x="136.4" y="86.60000000000008" width="10.400000000000006" height="1.7" fill="#4a399f"/>
<rect x="136.4" y="88.30000000000008" width="10.400000000000006" height="1.7" fill="#3f2f95"/>
<rect x="136.4" y="90.00000000000009" width="10.400000000000006" height="1.7" fill="#4a399f"/>
<rect x="136.4" y="91.70000000000009" width="10.400000000000006" height="1.7" fill="#4c3ca2"/>
<rect x="136.4" y="93.40000000000009" width="10.400000000000006" height="1.7" fill="#4c3ca2"/>
<rect x="136.4" y="95.1000000000001" width="10.400000000000006" height="1.7" fill="#3f2f95"/>
<rect x="136.4" y="96.8000000000001" width="10.400000000000006" height="1.7" fill="#4a399f"/>
<rect x="136.4" y="98.5000000000001" width="10.400000000000006" height="1.7" fill="#3f2f95"/>
<rect x="136.4" y="100.2000000000001" width="10.400000000000006" height="1.7" fill="#4a399f"/>
<rect x="136.4" y="101.9000000000001" width="10.400000000000006" height="1.7" fill="#4c3ca2"/>
<rect x="136.4" y="103.60000000000011" width="10.400000000000006" height="1.7" fill="#4a399f"/>
<rect x="136.4" y="105.30000000000011" width="10.400000000000006" height="1.7" fill="#3f2f95"/>
<rect x="136.4" y="107.00000000000011" width="10.400000000000006" height="1.7" fill="#4c3ca2"/>
<rect x="136.4" y="108.70000000000012" width="10.400000000000006" height="1.7" fill="#3f2f95"/>
<rect x="136.4" y="110.40000000000012" width="10.400000000000006" height="1.7" fill="#4a399f"/>
<rect x="136.4" y="112.10000000000012" width="10.400000000000006" height="1.7" fill="#3f2f95"/>
<rect x="136.4" y="113.80000000000013" width="10.400000000000006" height="1.7" fill="#4a399f"/>
<rect x="136.4" y="115.50000000000013" width="10.400000000000006" height="1.7" fill="#3f2f95"/>
<rect x="136.4" y="117.20000000000013" width="10.400000000000006" height="1.7" fill="#4a399f"/>
<rect x="136.4" y="118.90000000000013" width="10.400000000000006" height="1.7" fill="#3f2f95"/>
<rect x="136.4" y="120.60000000000014" width="10.400000000000006" height="1.7" fill="#4a399f"/>
<rect x="136.4" y="122.30000000000014" width="10.400000000000006" height="1.7" fill="#3f2f95"/>
<rect x="136.4" y="124.00000000000014" width="10.400000000000006" height="1.7" fill="#4a399f"/>
<rect x="136.4" y="125.70000000000014" width="10.400000000000006" height="1.7" fill="#3f2f95"/>
<rect x="136.4" y="127.40000000000015" width="10.400000000000006" height="1.7" fill="#4a399f"/>
<rect x="136.4" y="129.10000000000014" width="10.400000000000006" height="1.7" fill="#3f2f95"/>
<rect x="136.4" y="130.80000000000013" width="10.400000000000006" height="1.7" fill="#4a399f"/>
<rect x="136.4" y="132.5000000000001" width="10.400000000000006" height="1.7" fill="#4c3ca2"/>
<rect x="136.4" y="134.2000000000001" width="10.400000000000006" height="1.7" fill="#4a399f"/>
<rect x="136.4" y="135.9000000000001" width="10.400000000000006" height="1.7" fill="#3f2f95"/>
<rect x="136.4" y="137.60000000000008" width="10.400000000000006" height="1.7" fill="#4a399f"/>
<rect x="136.4" y="139.30000000000007" width="10.400000000000006" height="1.7" fill="#3f2f95"/>
<rect x="136.4" y="141.00000000000006" width="10.400000000000006" height="1.7" fill="#4a399f"/>
<rect x="136.4" y="142.70000000000005" width="10.400000000000006" height="1.7" fill="#4c3ca2"/>
<rect x="136.4" y="144.40000000000003" width="10.400000000000006" height="1.7" fill="#4a399f"/>
<rect x="136.4" y="146.10000000000002" width="10.400000000000006" height="1.7" fill="#4c3ca2"/>
<rect x="136.4" y="147.8" width="10.400000000000006" height="0.799999999999983" fill="#4a399f"/>
<rect x="146.8" y="35.6" width="10.599999999999994" height="113.0" fill="#45349a"/>
<rect x="146.8" y="35.6" width="10.599999999999994" height="1.7" fill="#4a399f"/>
<rect x="146.8" y="37.300000000000004" width="10.599999999999994" height="1.7" fill="#3f2f95"/>
<rect x="146.8" y="39.00000000000001" width="10.599999999999994" height="1.7" fill="#4a399f"/>
<rect x="146.8" y="40.70000000000001" width="10.599999999999994" height="1.7" fill="#3f2f95"/>
<rect x="146.8" y="42.40000000000001" width="10.599999999999994" height="1.7" fill="#4a399f"/>
<rect x="146.8" y="44.100000000000016" width="10.599999999999994" height="1.7" fill="#3f2f95"/>
<rect x="146.8" y="45.80000000000002" width="10.599999999999994" height="1.7" fill="#4a399f"/>
<rect x="146.8" y="47.50000000000002" width="10.599999999999994" height="1.7" fill="#3f2f95"/>
<rect x="146.8" y="49.200000000000024" width="10.599999999999994" height="1.7" fill="#4a399f"/>
<rect x="146.8" y="50.90000000000003" width="10.599999999999994" height="1.7" fill="#3f2f95"/>
<rect x="146.8" y="52.60000000000003" width="10.599999999999994" height="1.7" fill="#4c3ca2"/>
<rect x="146.8" y="54.30000000000003" width="10.599999999999994" height="1.7" fill="#3f2f95"/>
<rect x="146.8" y="56.000000000000036" width="10.599999999999994" height="1.7" fill="#4a399f"/>
<rect x="146.8" y="57.70000000000004" width="10.599999999999994" height="1.7" fill="#4c3ca2"/>
<rect x="146.8" y="59.40000000000004" width="10.599999999999994" height="1.7" fill="#4a399f"/>
<rect x="146.8" y="61.100000000000044" width="10.599999999999994" height="1.7" fill="#3f2f95"/>
<rect x="146.8" y="62.80000000000005" width="10.599999999999994" height="1.7" fill="#4a399f"/>
<rect x="146.8" y="64.50000000000004" width="10.599999999999994" height="1.7" fill="#4c3ca2"/>
<rect x="146.8" y="66.20000000000005" width="10.599999999999994" height="1.7" fill="#4a399f"/>
<rect x="146.8" y="67.90000000000005" width="10.599999999999994" height="1.7" fill="#3f2f95"/>
<rect x="146.8" y="69.60000000000005" width="10.599999999999994" height="1.7" fill="#4a399f"/>
<rect x="146.8" y="71.30000000000005" width="10.599999999999994" height="1.7" fill="#3f2f95"/>
<rect x="146.8" y="73.00000000000006" width="10.599999999999994" height="1.7" fill="#4c3ca2"/>
<rect x="146.8" y="74.70000000000006" width="10.599999999999994" height="1.7" fill="#3f2f95"/>
<rect x="146.8" y="76.40000000000006" width="10.599999999999994" height="1.7" fill="#4a399f"/>
<rect x="146.8" y="78.10000000000007" width="10.599999999999994" height="1.7" fill="#4c3ca2"/>
<rect x="146.8" y="79.80000000000007" width="10.599999999999994" height="1.7" fill="#4a399f"/>
<rect x="146.8" y="81.50000000000007" width="10.599999999999994" height="1.7" fill="#3f2f95"/>
<rect x="146.8" y="83.20000000000007" width="10.599999999999994" height="1.7" fill="#4a399f"/>
<rect x="146.8" y="84.90000000000008" width="10.599999999999994" height="1.7" fill="#3f2f95"/>
<rect x="146.8" y="86.60000000000008" width="10.599999999999994" height="1.7" fill="#4c3ca2"/>
<rect x="146.8" y="88.30000000000008" width="10.599999999999994" height="1.7" fill="#3f2f95"/>
<rect x="146.8" y="90.00000000000009" width="10.599999999999994" height="1.7" fill="#4a399f"/>
<rect x="146.8" y="91.70000000000009" width="10.599999999999994" height="1.7" fill="#3f2f95"/>
<rect x="146.8" y="93.40000000000009" width="10.599999999999994" height="1.7" fill="#4a399f"/>
<rect x="146.8" y="95.1000000000001" width="10.599999999999994" height="1.7" fill="#3f2f95"/>
<rect x="146.8" y="96.8000000000001" width="10.599999999999994" height="1.7" fill="#4a399f"/>
<rect x="146.8" y="98.5000000000001" width="10.599999999999994" height="1.7" fill="#4c3ca2"/>
<rect x="146.8" y="100.2000000000001" width="10.599999999999994" height="1.7" fill="#4a399f"/>
<rect x="146.8" y="101.9000000000001" width="10.599999999999994" height="1.7" fill="#3f2f95"/>
<rect x="146.8" y="103.60000000000011" width="10.599999999999994" height="1.7" fill="#4a399f"/>
<rect x="146.8" y="105.30000000000011" width="10.599999999999994" height="1.7" fill="#3f2f95"/>
<rect x="146.8" y="107.00000000000011" width="10.599999999999994" height="1.7" fill="#4a399f"/>
<rect x="146.8" y="108.70000000000012" width="10.599999999999994" height="1.7" fill="#3f2f95"/>
<rect x="146.8" y="110.40000000000012" width="10.599999999999994" height="1.7" fill="#4a399f"/>
<rect x="146.8" y="112.10000000000012" width="10.599999999999994" height="1.7" fill="#3f2f95"/>
<rect x="146.8" y="113.80000000000013" width="10.599999999999994" height="1.7" fill="#4a399f"/>
<rect x="146.8" y="115.50000000000013" width="10.599999999999994" height="1.7" fill="#3f2f95"/>
<rect x="146.8" y="117.20000000000013" width="10.599999999999994" height="1.7" fill="#4c3ca2"/>
<rect x="146.8" y="118.90000000000013" width="10.599999999999994" height="1.7" fill="#3f2f95"/>
<rect x="146.8" y="120.60000000000014" width="10.599999999999994" height="1.7" fill="#4a399f"/>
<rect x="146.8" y="122.30000000000014" width="10.599999999999994" height="1.7" fill="#3f2f95"/>
<rect x="146.8" y="124.00000000000014" width="10.599999999999994" height="1.7" fill="#4a399f"/>
<rect x="146.8" y="125.70000000000014" width="10.599999999999994" height="1.7" fill="#3f2f95"/>
<rect x="146.8" y="127.40000000000015" width="10.599999999999994" height="1.7" fill="#4a399f"/>
<rect x="146.8" y="129.10000000000014" width="10.599999999999994" height="1.7" fill="#3f2f95"/>
<rect x="146.8" y="130.80000000000013" width="10.599999999999994" height="1.7" fill="#4a399f"/>
<rect x="146.8" y="132.5000000000001" width="10.599999999999994" height="1.7" fill="#3f2f95"/>
<rect x="146.8" y="134.2000000000001" width="10.599999999999994" height="1.7" fill="#4a399f"/>
<rect x="146.8" y="135.9000000000001" width="10.599999999999994" height="1.7" fill="#3f2f95"/>
<rect x="146.8" y="137.60000000000008" width="10.599999999999994" height="1.7" fill="#4c3ca2"/>
<rect x="146.8" y="139.30000000000007" width="10.599999999999994" height="1.7" fill="#4c3ca2"/>
<rect x="146.8" y="141.00000000000006" width="10.599999999999994" height="1.7" fill="#4a399f"/>
<rect x="146.8" y="142.70000000000005" width="10.599999999999994" height="1.7" fill="#3f2f95"/>
<rect x="146.8" y="144.40000000000003" width="10.599999999999994" height="1.7" fill="#4a399f"/>
<rect x="146.8" y="146.10000000000002" width="10.599999999999994" height="1.7" fill="#3f2f95"/>
<rect x="146.8" y="147.8" width="10.599999999999994" height="0.799999999999983" fill="#4a399f"/>
<rect x="157.4" y="35.6" width="10.400000000000006" height="113.0" fill="#c0272a"/>
<rect x="157.4" y="35.6" width="10.400000000000006" height="0.8" fill="#b01f23"/>
<rect x="157.4" y="36.4" width="10.400000000000006" height="2.2" fill="#dc5458"/>
<rect x="157.4" y="38.6" width="10.400000000000006" height="0.8" fill="#b01f23"/>
<rect x="157.4" y="39.4" width="10.400000000000006" height="2.0" fill="#b01f23"/>
<rect x="157.4" y="41.4" width="10.400000000000006" height="1.6" fill="#c0272a"/>
<rect x="157.4" y="43.0" width="10.400000000000006" height="0.8" fill="#b01f23"/>
<rect x="157.4" y="43.8" width="10.400000000000006" height="1.0" fill="#dc5458"/>
<rect x="157.4" y="44.8" width="10.400000000000006" height="1.0" fill="#ec9098"/>
<rect x="157.4" y="45.8" width="10.400000000000006" height="2.0" fill="#b01f23"/>
<rect x="157.4" y="47.8" width="10.400000000000006" height="1.3" fill="#b01f23"/>
<rect x="157.4" y="49.099999999999994" width="10.400000000000006" height="0.8" fill="#b01f23"/>
<rect x="157.4" y="49.89999999999999" width="10.400000000000006" height="1.0" fill="#c0272a"/>
<rect x="157.4" y="50.89999999999999" width="10.400000000000006" height="1.6" fill="#c0272a"/>
<rect x="157.4" y="52.49999999999999" width="10.400000000000006" height="1.0" fill="#c0272a"/>
<rect x="157.4" y="53.49999999999999" width="10.400000000000006" height="2.0" fill="#b01f23"/>
<rect x="157.4" y="55.49999999999999" width="10.400000000000006" height="2.4" fill="#c0272a"/>
<rect x="157.4" y="57.89999999999999" width="10.400000000000006" height="2.0" fill="#b01f23"/>
<rect x="157.4" y="59.89999999999999" width="10.400000000000006" height="1.8" fill="#e4707a"/>
<rect x="157.4" y="61.69999999999999" width="10.400000000000006" height="1.6" fill="#c0272a"/>
<rect x="157.4" y="63.29999999999999" width="10.400000000000006" height="1.6" fill="#dc5458"/>
<rect x="157.4" y="64.89999999999999" width="10.400000000000006" height="1.0" fill="#ec9098"/>
<rect x="157.4" y="65.89999999999999" width="10.400000000000006" height="1.6" fill="#dc5458"/>
<rect x="157.4" y="67.49999999999999" width="10.400000000000006" height="1.0" fill="#c0272a"/>
<rect x="157.4" y="68.49999999999999" width="10.400000000000006" height="1.6" fill="#c0272a"/>
<rect x="157.4" y="70.09999999999998" width="10.400000000000006" height="1.0" fill="#c0272a"/>
<rect x="157.4" y="71.09999999999998" width="10.400000000000006" height="1.6" fill="#c0272a"/>
<rect x="157.4" y="72.69999999999997" width="10.400000000000006" height="2.4" fill="#c0272a"/>
<rect x="157.4" y="75.09999999999998" width="10.400000000000006" height="1.3" fill="#b01f23"/>
<rect x="157.4" y="76.39999999999998" width="10.400000000000006" height="1.0" fill="#c0272a"/>
<rect x="157.4" y="77.39999999999998" width="10.400000000000006" height="1.6" fill="#ec9098"/>
<rect x="157.4" y="78.99999999999997" width="10.400000000000006" height="1.0" fill="#c0272a"/>
<rect x="157.4" y="79.99999999999997" width="10.400000000000006" height="1.6" fill="#ec9098"/>
<rect x="157.4" y="81.59999999999997" width="10.400000000000006" height="2.0" fill="#b01f23"/>
<rect x="157.4" y="83.59999999999997" width="10.400000000000006" height="1.0" fill="#c0272a"/>
<rect x="157.4" y="84.59999999999997" width="10.400000000000006" height="1.3" fill="#b01f23"/>
<rect x="157.4" y="85.89999999999996" width="10.400000000000006" height="1.8" fill="#e4707a"/>
<rect x="157.4" y="87.69999999999996" width="10.400000000000006" height="1.2" fill="#e4707a"/>
<rect x="157.4" y="88.89999999999996" width="10.400000000000006" height="1.6" fill="#c0272a"/>
<rect x="157.4" y="90.49999999999996" width="10.400000000000006" height="1.8" fill="#e4707a"/>
<rect x="157.4" y="92.29999999999995" width="10.400000000000006" height="0.8" fill="#b01f23"/>
<rect x="157.4" y="93.09999999999995" width="10.400000000000006" height="1.8" fill="#e4707a"/>
<rect x="157.4" y="94.89999999999995" width="10.400000000000006" height="2.0" fill="#f2cad8"/>
<rect x="157.4" y="96.89999999999995" width="10.400000000000006" height="2.0" fill="#b01f23"/>
<rect x="157.4" y="98.89999999999995" width="10.400000000000006" height="1.0" fill="#dc5458"/>
<rect x="157.4" y="99.89999999999995" width="10.400000000000006" height="1.2" fill="#e4707a"/>
<rect x="157.4" y="101.09999999999995" width="10.400000000000006" height="2.0" fill="#b01f23"/>
<rect x="157.4" y="103.09999999999995" width="10.400000000000006" height="2.0" fill="#b01f23"/>
<rect x="157.4" y="105.09999999999995" width="10.400000000000006" height="1.0" fill="#c0272a"/>
<rect x="157.4" y="106.09999999999995" width="10.400000000000006" height="1.0" fill="#dc5458"/>
<rect x="157.4" y="107.09999999999995" width="10.400000000000006" height="2.0" fill="#b01f23"/>
<rect x="157.4" y="109.09999999999995" width="10.400000000000006" height="1.0" fill="#c0272a"/>
<rect x="157.4" y="110.09999999999995" width="10.400000000000006" height="2.4" fill="#c0272a"/>
<rect x="157.4" y="112.49999999999996" width="10.400000000000006" height="1.8" fill="#e4707a"/>
<rect x="157.4" y="114.29999999999995" width="10.400000000000006" height="2.0" fill="#b01f23"/>
<rect x="157.4" y="116.29999999999995" width="10.400000000000006" height="1.3" fill="#b01f23"/>
<rect x="157.4" y="117.59999999999995" width="10.400000000000006" height="2.0" fill="#b01f23"/>
<rect x="157.4" y="119.59999999999995" width="10.400000000000006" height="0.8" fill="#b01f23"/>
<rect x="157.4" y="120.39999999999995" width="10.400000000000006" height="2.0" fill="#b01f23"/>
<rect x="157.4" y="122.39999999999995" width="10.400000000000006" height="1.0" fill="#dc5458"/>
<rect x="157.4" y="123.39999999999995" width="10.400000000000006" height="2.6" fill="#e4707a"/>
<rect x="157.4" y="125.99999999999994" width="10.400000000000006" height="1.4" fill="#f2cad8"/>
<rect x="157.4" y="127.39999999999995" width="10.400000000000006" height="1.4" fill="#f2cad8"/>
<rect x="157.4" y="128.79999999999995" width="10.400000000000006" height="2.4" fill="#c0272a"/>
<rect x="157.4" y="131.19999999999996" width="10.400000000000006" height="1.6" fill="#c0272a"/>
<rect x="157.4" y="132.79999999999995" width="10.400000000000006" height="1.0" fill="#dc5458"/>
<rect x="157.4" y="133.79999999999995" width="10.400000000000006" height="1.3" fill="#b01f23"/>
<rect x="157.4" y="135.09999999999997" width="10.400000000000006" height="1.0" fill="#c0272a"/>
<rect x="157.4" y="136.09999999999997" width="10.400000000000006" height="1.6" fill="#c0272a"/>
<rect x="157.4" y="137.69999999999996" width="10.400000000000006" height="0.8" fill="#b01f23"/>
<rect x="157.4" y="138.49999999999997" width="10.400000000000006" height="1.2" fill="#e4707a"/>
<rect x="157.4" y="139.69999999999996" width="10.400000000000006" height="2.4" fill="#c0272a"/>
<rect x="157.4" y="142.09999999999997" width="10.400000000000006" height="1.6" fill="#dc5458"/>
<rect x="157.4" y="143.69999999999996" width="10.400000000000006" height="2.6" fill="#e4707a"/>
<rect x="157.4" y="146.29999999999995" width="10.400000000000006" height="0.8" fill="#b01f23"/>
<rect x="157.4" y="147.09999999999997" width="10.400000000000006" height="1.5000000000000284" fill="#dc5458"/>
<rect x="167.8" y="35.6" width="10.5" height="113.0" fill="#c0272a"/>
<rect x="167.8" y="35.6" width="10.5" height="1.3" fill="#b01f23"/>
<rect x="167.8" y="36.9" width="10.5" height="0.8" fill="#b01f23"/>
<rect x="167.8" y="37.699999999999996" width="10.5" height="1.8" fill="#e4707a"/>
<rect x="167.8" y="39.49999999999999" width="10.5" height="2.4" fill="#c0272a"/>
<rect x="167.8" y="41.89999999999999" width="10.5" height="2.4" fill="#c0272a"/>
<rect x="167.8" y="44.29999999999999" width="10.5" height="1.6" fill="#dc5458"/>
<rect x="167.8" y="45.89999999999999" width="10.5" height="2.6" fill="#e4707a"/>
<rect x="167.8" y="48.49999999999999" width="10.5" height="1.0" fill="#c0272a"/>
<rect x="167.8" y="49.49999999999999" width="10.5" height="2.6" fill="#e4707a"/>
<rect x="167.8" y="52.099999999999994" width="10.5" height="1.0" fill="#c0272a"/>
<rect x="167.8" y="53.099999999999994" width="10.5" height="2.4" fill="#c0272a"/>
<rect x="167.8" y="55.49999999999999" width="10.5" height="1.0" fill="#c0272a"/>
<rect x="167.8" y="56.49999999999999" width="10.5" height="1.0" fill="#dc5458"/>
<rect x="167.8" y="57.49999999999999" width="10.5" height="2.4" fill="#c0272a"/>
<rect x="167.8" y="59.89999999999999" width="10.5" height="1.0" fill="#dc5458"/>
<rect x="167.8" y="60.89999999999999" width="10.5" height="1.3" fill="#b01f23"/>
<rect x="167.8" y="62.19999999999999" width="10.5" height="1.6" fill="#c0272a"/>
<rect x="167.8" y="63.79999999999999" width="10.5" height="1.3" fill="#b01f23"/>
<rect x="167.8" y="65.1" width="10.5" height="1.6" fill="#c0272a"/>
<rect x="167.8" y="66.69999999999999" width="10.5" height="1.6" fill="#c0272a"/>
<rect x="167.8" y="68.29999999999998" width="10.5" height="1.6" fill="#dc5458"/>
<rect x="167.8" y="69.89999999999998" width="10.5" height="1.6" fill="#c0272a"/>
<rect x="167.8" y="71.49999999999997" width="10.5" height="1.0" fill="#c0272a"/>
<rect x="167.8" y="72.49999999999997" width="10.5" height="1.0" fill="#dc5458"/>
<rect x="167.8" y="73.49999999999997" width="10.5" height="2.4" fill="#c0272a"/>
<rect x="167.8" y="75.89999999999998" width="10.5" height="0.8" fill="#b01f23"/>
<rect x="167.8" y="76.69999999999997" width="10.5" height="1.0" fill="#c0272a"/>
<rect x="167.8" y="77.69999999999997" width="10.5" height="1.2" fill="#e4707a"/>
<rect x="167.8" y="78.89999999999998" width="10.5" height="2.4" fill="#c0272a"/>
<rect x="167.8" y="81.29999999999998" width="10.5" height="1.6" fill="#ec9098"/>
<rect x="167.8" y="82.89999999999998" width="10.5" height="1.8" fill="#e4707a"/>
<rect x="167.8" y="84.69999999999997" width="10.5" height="1.6" fill="#c0272a"/>
<rect x="167.8" y="86.29999999999997" width="10.5" height="1.6" fill="#c0272a"/>
<rect x="167.8" y="87.89999999999996" width="10.5" height="2.2" fill="#dc5458"/>
<rect x="167.8" y="90.09999999999997" width="10.5" height="2.0" fill="#b01f23"/>
<rect x="167.8" y="92.09999999999997" width="10.5" height="1.3" fill="#b01f23"/>
<rect x="167.8" y="93.39999999999996" width="10.5" height="2.2" fill="#dc5458"/>
<rect x="167.8" y="95.59999999999997" width="10.5" height="2.2" fill="#dc5458"/>
<rect x="167.8" y="97.79999999999997" width="10.5" height="1.6" fill="#c0272a"/>
<rect x="167.8" y="99.39999999999996" width="10.5" height="1.0" fill="#dc5458"/>
<rect x="167.8" y="100.39999999999996" width="10.5" height="1.8" fill="#e4707a"/>
<rect x="167.8" y="102.19999999999996" width="10.5" height="1.0" fill="#c0272a"/>
<rect x="167.8" y="103.19999999999996" width="10.5" height="2.0" fill="#b01f23"/>
<rect x="167.8" y="105.19999999999996" width="10.5" height="1.2" fill="#e4707a"/>
<rect x="167.8" y="106.39999999999996" width="10.5" height="0.8" fill="#b01f23"/>
<rect x="167.8" y="107.19999999999996" width="10.5" height="1.6" fill="#c0272a"/>
<rect x="167.8" y="108.79999999999995" width="10.5" height="1.3" fill="#b01f23"/>
<rect x="167.8" y="110.09999999999995" width="10.5" height="1.8" fill="#e4707a"/>
<rect x="167.8" y="111.89999999999995" width="10.5" height="1.0" fill="#c0272a"/>
<rect x="167.8" y="112.89999999999995" width="10.5" height="1.8" fill="#e4707a"/>
<rect x="167.8" y="114.69999999999995" width="10.5" height="1.6" fill="#c0272a"/>
<rect x="167.8" y="116.29999999999994" width="10.5" height="0.8" fill="#b01f23"/>
<rect x="167.8" y="117.09999999999994" width="10.5" height="2.6" fill="#e4707a"/>
<rect x="167.8" y="119.69999999999993" width="10.5" height="1.0" fill="#c0272a"/>
<rect x="167.8" y="120.69999999999993" width="10.5" height="2.4" fill="#c0272a"/>
<rect x="167.8" y="123.09999999999994" width="10.5" height="1.3" fill="#b01f23"/>
<rect x="167.8" y="124.39999999999993" width="10.5" height="1.2" fill="#e4707a"/>
<rect x="167.8" y="125.59999999999994" width="10.5" height="1.3" fill="#b01f23"/>
<rect x="167.8" y="126.89999999999993" width="10.5" height="2.0" fill="#b01f23"/>
<rect x="167.8" y="128.89999999999992" width="10.5" height="0.8" fill="#b01f23"/>
<rect x="167.8" y="129.69999999999993" width="10.5" height="2.0" fill="#b01f23"/>
<rect x="167.8" y="131.69999999999993" width="10.5" height="0.8" fill="#b01f23"/>
<rect x="167.8" y="132.49999999999994" width="10.5" height="2.4" fill="#c0272a"/>
<rect x="167.8" y="134.89999999999995" width="10.5" height="2.0" fill="#b01f23"/>
<rect x="167.8" y="136.89999999999995" width="10.5" height="1.6" fill="#ec9098"/>
<rect x="167.8" y="138.49999999999994" width="10.5" height="1.0" fill="#ec9098"/>
<rect x="167.8" y="139.49999999999994" width="10.5" height="0.8" fill="#b01f23"/>
<rect x="167.8" y="140.29999999999995" width="10.5" height="1.2" fill="#e4707a"/>
<rect x="167.8" y="141.49999999999994" width="10.5" height="1.6" fill="#ec9098"/>
<rect x="167.8" y="143.09999999999994" width="10.5" height="2.2" fill="#dc5458"/>
<rect x="167.8" y="145.29999999999993" width="10.5" height="2.6" fill="#e4707a"/>
<rect x="167.8" y="147.89999999999992" width="10.5" height="0.7000000000000739" fill="#c0272a"/>
<rect x="178.3" y="35.6" width="10.399999999999977" height="113.0" fill="#c0272a"/>
<rect x="178.3" y="35.6" width="10.399999999999977" height="2.0" fill="#b01f23"/>
<rect x="178.3" y="37.6" width="10.399999999999977" height="1.0" fill="#dc5458"/>
<rect x="178.3" y="38.6" width="10.399999999999977" height="2.2" fill="#dc5458"/>
<rect x="178.3" y="40.800000000000004" width="10.399999999999977" height="2.4" fill="#c0272a"/>
<rect x="178.3" y="43.2" width="10.399999999999977" height="0.8" fill="#b01f23"/>
<rect x="178.3" y="44.0" width="10.399999999999977" height="1.3" fill="#b01f23"/>
<rect x="178.3" y="45.3" width="10.399999999999977" height="0.8" fill="#b01f23"/>
<rect x="178.3" y="46.099999999999994" width="10.399999999999977" height="2.4" fill="#c0272a"/>
<rect x="178.3" y="48.49999999999999" width="10.399999999999977" height="0.8" fill="#b01f23"/>
<rect x="178.3" y="49.29999999999999" width="10.399999999999977" height="1.2" fill="#e4707a"/>
<rect x="178.3" y="50.49999999999999" width="10.399999999999977" height="2.0" fill="#b01f23"/>
<rect x="178.3" y="52.49999999999999" width="10.399999999999977" height="2.0" fill="#b01f23"/>
<rect x="178.3" y="54.49999999999999" width="10.399999999999977" height="1.0" fill="#ec9098"/>
<rect x="178.3" y="55.49999999999999" width="10.399999999999977" height="1.6" fill="#c0272a"/>
<rect x="178.3" y="57.099999999999994" width="10.399999999999977" height="0.8" fill="#b01f23"/>
<rect x="178.3" y="57.89999999999999" width="10.399999999999977" height="1.6" fill="#c0272a"/>
<rect x="178.3" y="59.49999999999999" width="10.399999999999977" height="2.6" fill="#e4707a"/>
<rect x="178.3" y="62.099999999999994" width="10.399999999999977" height="1.0" fill="#c0272a"/>
<rect x="178.3" y="63.099999999999994" width="10.399999999999977" height="1.3" fill="#b01f23"/>
<rect x="178.3" y="64.39999999999999" width="10.399999999999977" height="1.0" fill="#ec9098"/>
<rect x="178.3" y="65.39999999999999" width="10.399999999999977" height="1.0" fill="#ec9098"/>
<rect x="178.3" y="66.39999999999999" width="10.399999999999977" height="1.0" fill="#c0272a"/>
<rect x="178.3" y="67.39999999999999" width="10.399999999999977" height="1.3" fill="#b01f23"/>
<rect x="178.3" y="68.69999999999999" width="10.399999999999977" height="1.3" fill="#b01f23"/>
<rect x="178.3" y="69.99999999999999" width="10.399999999999977" height="1.6" fill="#c0272a"/>
<rect x="178.3" y="71.59999999999998" width="10.399999999999977" height="0.8" fill="#b01f23"/>
<rect x="178.3" y="72.39999999999998" width="10.399999999999977" height="1.0" fill="#c0272a"/>
<rect x="178.3" y="73.39999999999998" width="10.399999999999977" height="1.6" fill="#c0272a"/>
<rect x="178.3" y="74.99999999999997" width="10.399999999999977" height="2.4" fill="#c0272a"/>
<rect x="178.3" y="77.39999999999998" width="10.399999999999977" height="1.0" fill="#c0272a"/>
<rect x="178.3" y="78.39999999999998" width="10.399999999999977" height="1.6" fill="#c0272a"/>
<rect x="178.3" y="79.99999999999997" width="10.399999999999977" height="0.8" fill="#b01f23"/>
<rect x="178.3" y="80.79999999999997" width="10.399999999999977" height="1.0" fill="#c0272a"/>
<rect x="178.3" y="81.79999999999997" width="10.399999999999977" height="1.2" fill="#e4707a"/>
<rect x="178.3" y="82.99999999999997" width="10.399999999999977" height="2.2" fill="#dc5458"/>
<rect x="178.3" y="85.19999999999997" width="10.399999999999977" height="1.0" fill="#c0272a"/>
<rect x="178.3" y="86.19999999999997" width="10.399999999999977" height="1.6" fill="#c0272a"/>
<rect x="178.3" y="87.79999999999997" width="10.399999999999977" height="1.6" fill="#c0272a"/>
<rect x="178.3" y="89.39999999999996" width="10.399999999999977" height="1.6" fill="#c0272a"/>
<rect x="178.3" y="90.99999999999996" width="10.399999999999977" height="1.0" fill="#dc5458"/>
<rect x="178.3" y="91.99999999999996" width="10.399999999999977" height="1.3" fill="#b01f23"/>
<rect x="178.3" y="93.29999999999995" width="10.399999999999977" height="1.4" fill="#f2cad8"/>
<rect x="178.3" y="94.69999999999996" width="10.399999999999977" height="0.8" fill="#b01f23"/>
<rect x="178.3" y="95.49999999999996" width="10.399999999999977" height="1.8" fill="#e4707a"/>
<rect x="178.3" y="97.29999999999995" width="10.399999999999977" height="1.3" fill="#b01f23"/>
<rect x="178.3" y="98.59999999999995" width="10.399999999999977" height="1.0" fill="#c0272a"/>
<rect x="178.3" y="99.59999999999995" width="10.399999999999977" height="1.8" fill="#e4707a"/>
<rect x="178.3" y="101.39999999999995" width="10.399999999999977" height="1.3" fill="#b01f23"/>
<rect x="178.3" y="102.69999999999995" width="10.399999999999977" height="2.4" fill="#c0272a"/>
<rect x="178.3" y="105.09999999999995" width="10.399999999999977" height="1.6" fill="#c0272a"/>
<rect x="178.3" y="106.69999999999995" width="10.399999999999977" height="1.3" fill="#b01f23"/>
<rect x="178.3" y="107.99999999999994" width="10.399999999999977" height="1.6" fill="#ec9098"/>
<rect x="178.3" y="109.59999999999994" width="10.399999999999977" height="2.2" fill="#dc5458"/>
<rect x="178.3" y="111.79999999999994" width="10.399999999999977" height="2.0" fill="#b01f23"/>
<rect x="178.3" y="113.79999999999994" width="10.399999999999977" height="1.0" fill="#c0272a"/>
<rect x="178.3" y="114.79999999999994" width="10.399999999999977" height="2.0" fill="#b01f23"/>
<rect x="178.3" y="116.79999999999994" width="10.399999999999977" height="2.6" fill="#e4707a"/>
<rect x="178.3" y="119.39999999999993" width="10.399999999999977" height="2.4" fill="#c0272a"/>
<rect x="178.3" y="121.79999999999994" width="10.399999999999977" height="1.6" fill="#c0272a"/>
<rect x="178.3" y="123.39999999999993" width="10.399999999999977" height="1.6" fill="#dc5458"/>
<rect x="178.3" y="124.99999999999993" width="10.399999999999977" height="1.6" fill="#c0272a"/>
<rect x="178.3" y="126.59999999999992" width="10.399999999999977" height="1.0" fill="#ec9098"/>
<rect x="178.3" y="127.59999999999992" width="10.399999999999977" height="1.0" fill="#c0272a"/>
<rect x="178.3" y="128.5999999999999" width="10.399999999999977" height="1.0" fill="#c0272a"/>
<rect x="178.3" y="129.5999999999999" width="10.399999999999977" height="1.0" fill="#dc5458"/>
<rect x="178.3" y="130.5999999999999" width="10.399999999999977" height="2.0" fill="#b01f23"/>
<rect x="178.3" y="132.5999999999999" width="10.399999999999977" height="2.4" fill="#c0272a"/>
<rect x="178.3" y="134.99999999999991" width="10.399999999999977" height="1.6" fill="#dc5458"/>
<rect x="178.3" y="136.5999999999999" width="10.399999999999977" height="1.2" fill="#e4707a"/>
<rect x="178.3" y="137.7999999999999" width="10.399999999999977" height="1.2" fill="#e4707a"/>
<rect x="178.3" y="138.9999999999999" width="10.399999999999977" height="1.2" fill="#e4707a"/>
<rect x="178.3" y="140.19999999999987" width="10.399999999999977" height="2.4" fill="#c0272a"/>
<rect x="178.3" y="142.59999999999988" width="10.399999999999977" height="1.0" fill="#c0272a"/>
<rect x="178.3" y="143.59999999999988" width="10.399999999999977" height="1.3" fill="#b01f23"/>
<rect x="178.3" y="144.8999999999999" width="10.399999999999977" height="1.2" fill="#e4707a"/>
<rect x="178.3" y="146.09999999999988" width="10.399999999999977" height="2.5000000000001137" fill="#e4707a"/>
<line x1="146.8" y1="35.6" x2="146.8" y2="148.6" stroke="#1c1030" stroke-width="1.2"/>
<line x1="157.4" y1="35.6" x2="157.4" y2="148.6" stroke="#1c1030" stroke-width="1.2"/>
<line x1="167.8" y1="35.6" x2="167.8" y2="148.6" stroke="#1c1030" stroke-width="1.2"/>
<line x1="178.3" y1="35.6" x2="178.3" y2="148.6" stroke="#1c1030" stroke-width="1.2"/>
<text x="31.7" y="25.6" font-size="8.6" text-anchor="middle" stroke="#231f20" stroke-width="0.22">+/+</text>
<text x="59.3" y="25.6" font-size="8.6" text-anchor="middle" stroke="#231f20" stroke-width="0.22">–/–</text>
<line x1="21.2" y1="28.6" x2="42.4" y2="28.6" stroke="#231f20" stroke-width="0.8"/>
<line x1="44.5" y1="28.6" x2="74.2" y2="28.6" stroke="#231f20" stroke-width="0.8"/>
<text x="147.6" y="25.6" font-size="8.6" text-anchor="middle" stroke="#231f20" stroke-width="0.22">+/+</text>
<text x="174.5" y="25.6" font-size="8.6" text-anchor="middle" stroke="#231f20" stroke-width="0.22">–/–</text>
<line x1="136.4" y1="28.6" x2="158.4" y2="28.6" stroke="#231f20" stroke-width="0.8"/>
<line x1="160.4" y1="28.6" x2="190.0" y2="28.6" stroke="#231f20" stroke-width="0.8"/>
<line x1="74.5" y1="36.2" x2="92.2" y2="27.5" stroke="#231f20" stroke-width="0.8"/>
<line x1="74.5" y1="148.8" x2="92.2" y2="156.4" stroke="#231f20" stroke-width="0.8"/>
<line x1="189.3" y1="36.6" x2="206.6" y2="30.6" stroke="#231f20" stroke-width="0.8"/>
<line x1="189.3" y1="148.6" x2="206.6" y2="155.9" stroke="#231f20" stroke-width="0.8"/>
<text x="112.2" y="25.2" font-size="8.1" text-anchor="middle" stroke="#231f20" stroke-width="0.22">DLK1</text>
<text x="112.2" y="34.699999999999996" font-size="8.1" text-anchor="middle" stroke="#231f20" stroke-width="0.22">HOXA10</text>
<text x="112.2" y="48.3" font-size="8.1" text-anchor="middle" stroke="#231f20" stroke-width="0.22">HOXA9</text>
<text x="112.2" y="57.8" font-size="8.1" text-anchor="middle" stroke="#231f20" stroke-width="0.22">GREB1</text>
<text x="112.2" y="70.5" font-size="8.1" text-anchor="middle" stroke="#231f20" stroke-width="0.22">HOXA7</text>
<text x="112.2" y="84.0" font-size="8.1" text-anchor="middle" stroke="#231f20" stroke-width="0.22">NRG1</text>
<text x="112.2" y="93.3" font-size="8.1" text-anchor="middle" stroke="#231f20" stroke-width="0.22">HOXA11</text>
<text x="112.2" y="109.8" font-size="8.1" text-anchor="middle" stroke="#231f20" stroke-width="0.22">HOXA5</text>
<text x="112.2" y="123.6" font-size="8.1" text-anchor="middle" stroke="#231f20" stroke-width="0.22">BCL11B</text>
<text x="112.2" y="137.60000000000002" font-size="8.1" text-anchor="middle" stroke="#231f20" stroke-width="0.22">PAX8</text>
<text x="112.2" y="152.0" font-size="8.1" text-anchor="middle" stroke="#231f20" stroke-width="0.22">MECOM</text>
<text x="112.2" y="161.20000000000002" font-size="8.1" text-anchor="middle" stroke="#231f20" stroke-width="0.22">HOXA3</text>
<line x1="101.1" y1="36.6" x2="122.1" y2="36.6" stroke="#444" stroke-width="1.3" stroke-dasharray="1.0 0.75"/>
<line x1="101.1" y1="60.0" x2="122.1" y2="60.0" stroke="#444" stroke-width="1.3" stroke-dasharray="1.0 0.75"/>
<line x1="101.1" y1="73.1" x2="122.1" y2="73.1" stroke="#444" stroke-width="1.3" stroke-dasharray="1.0 0.75"/>
<line x1="101.1" y1="98.39999999999999" x2="122.1" y2="98.39999999999999" stroke="#444" stroke-width="1.3" stroke-dasharray="1.0 0.75"/>
<line x1="101.1" y1="113.5" x2="122.1" y2="113.5" stroke="#444" stroke-width="1.3" stroke-dasharray="1.0 0.75"/>
<line x1="101.1" y1="127.6" x2="122.1" y2="127.6" stroke="#444" stroke-width="1.3" stroke-dasharray="1.0 0.75"/>
<line x1="101.1" y1="141.4" x2="122.1" y2="141.4" stroke="#444" stroke-width="1.3" stroke-dasharray="1.0 0.75"/>
<line x1="101.1" y1="165.29999999999998" x2="122.1" y2="165.29999999999998" stroke="#444" stroke-width="1.3" stroke-dasharray="1.0 0.75"/>
<text x="225.4" y="42.3" font-size="8.1" text-anchor="middle" stroke="#231f20" stroke-width="0.22">BTBD3</text>
<text x="225.4" y="57.4" font-size="8.1" text-anchor="middle" stroke="#231f20" stroke-width="0.22">ITGB3</text>
<text x="225.4" y="72.7" font-size="8.1" text-anchor="middle" stroke="#231f20" stroke-width="0.22">DOK7</text>
<text x="225.4" y="86.6" font-size="8.1" text-anchor="middle" stroke="#231f20" stroke-width="0.22">GATA3</text>
<text x="225.4" y="101.6" font-size="8.1" text-anchor="middle" stroke="#231f20" stroke-width="0.22">DUSP4</text>
<text x="225.4" y="117.2" font-size="8.1" text-anchor="middle" stroke="#231f20" stroke-width="0.22">PLS3</text>
<text x="225.4" y="126.8" font-size="8.1" text-anchor="middle" stroke="#231f20" stroke-width="0.22">CPNE8</text>
<text x="225.4" y="142.0" font-size="8.1" text-anchor="middle" stroke="#231f20" stroke-width="0.22">PCDHB22</text>
<line x1="215.0" y1="46.300000000000004" x2="235.0" y2="46.300000000000004" stroke="#444" stroke-width="1.3" stroke-dasharray="1.0 0.75"/>
<line x1="215.0" y1="61.6" x2="235.0" y2="61.6" stroke="#444" stroke-width="1.3" stroke-dasharray="1.0 0.75"/>
<line x1="215.0" y1="76.1" x2="235.0" y2="76.1" stroke="#444" stroke-width="1.3" stroke-dasharray="1.0 0.75"/>
<line x1="215.0" y1="92.3" x2="235.0" y2="92.3" stroke="#444" stroke-width="1.3" stroke-dasharray="1.0 0.75"/>
<line x1="215.0" y1="106.8" x2="235.0" y2="106.8" stroke="#444" stroke-width="1.3" stroke-dasharray="1.0 0.75"/>
<line x1="215.0" y1="131.6" x2="235.0" y2="131.6" stroke="#444" stroke-width="1.3" stroke-dasharray="1.0 0.75"/>
<text x="309.0" y="16.6" font-size="11.3" font-weight="bold" fill="#000" stroke="#000" stroke-width="0.35" textLength="7.4" lengthAdjust="spacingAndGlyphs">H</text>
<line x1="362.5" y1="89.4" x2="362.5" y2="106.6" stroke="#5c5c5c" stroke-width="0.5"/>
<line x1="363.8" y1="89.4" x2="363.8" y2="106.6" stroke="#a4a4a4" stroke-width="0.8"/>
<line x1="366.2" y1="89.4" x2="366.2" y2="106.6" stroke="#7c7c7c" stroke-width="0.6"/>
<line x1="368.1" y1="89.4" x2="368.1" y2="106.6" stroke="#6c6c6c" stroke-width="0.5"/>
<line x1="371.2" y1="89.4" x2="371.2" y2="106.6" stroke="#5c5c5c" stroke-width="0.6"/>
<line x1="372.3" y1="89.4" x2="372.3" y2="106.6" stroke="#7c7c7c" stroke-width="0.6"/>
<line x1="374.4" y1="89.4" x2="374.4" y2="106.6" stroke="#6c6c6c" stroke-width="0.5"/>
<line x1="375.6" y1="89.4" x2="375.6" y2="106.6" stroke="#8c8c8c" stroke-width="0.6"/>
<line x1="378.5" y1="89.4" x2="378.5" y2="106.6" stroke="#7c7c7c" stroke-width="0.5"/>
<line x1="379.1" y1="89.4" x2="379.1" y2="106.6" stroke="#6c6c6c" stroke-width="0.5"/>
<line x1="386.2" y1="89.4" x2="386.2" y2="106.6" stroke="#6c6c6c" stroke-width="0.5"/>
<line x1="397.5" y1="89.4" x2="397.5" y2="106.6" stroke="#7c7c7c" stroke-width="0.5"/>
<line x1="403.8" y1="89.4" x2="403.8" y2="106.6" stroke="#5c5c5c" stroke-width="0.5"/>
<line x1="404.8" y1="89.4" x2="404.8" y2="106.6" stroke="#333" stroke-width="0.7"/>
<line x1="413.8" y1="89.4" x2="413.8" y2="106.6" stroke="#7c7c7c" stroke-width="0.6"/>
<line x1="418.1" y1="89.4" x2="418.1" y2="106.6" stroke="#8c8c8c" stroke-width="0.6"/>
<line x1="431.9" y1="89.4" x2="431.9" y2="106.6" stroke="#a4a4a4" stroke-width="1.2"/>
<line x1="433.1" y1="89.4" x2="433.1" y2="106.6" stroke="#6c6c6c" stroke-width="0.5"/>
<line x1="438.8" y1="89.4" x2="438.8" y2="106.6" stroke="#444" stroke-width="0.7"/>
<line x1="440.6" y1="89.4" x2="440.6" y2="106.6" stroke="#8c8c8c" stroke-width="0.6"/>
<line x1="443.8" y1="89.4" x2="443.8" y2="106.6" stroke="#7c7c7c" stroke-width="0.5"/>
<line x1="448.1" y1="89.4" x2="448.1" y2="106.6" stroke="#8c8c8c" stroke-width="0.6"/>
<line x1="451.9" y1="89.4" x2="451.9" y2="106.6" stroke="#7c7c7c" stroke-width="0.5"/>
<line x1="456.2" y1="89.4" x2="456.2" y2="106.6" stroke="#8c8c8c" stroke-width="0.6"/>
<line x1="458.8" y1="89.4" x2="458.8" y2="106.6" stroke="#333" stroke-width="0.8"/>
<line x1="460.6" y1="89.4" x2="460.6" y2="106.6" stroke="#6c6c6c" stroke-width="0.6"/>
<line x1="463.8" y1="89.4" x2="463.8" y2="106.6" stroke="#555" stroke-width="0.6"/>
<line x1="465.0" y1="89.4" x2="465.0" y2="106.6" stroke="#6c6c6c" stroke-width="0.6"/>
<line x1="466.5" y1="89.4" x2="466.5" y2="106.6" stroke="#666" stroke-width="0.6"/>
<rect x="349.8" y="106.6" width="19.0" height="3.4000000000000057" fill="#e6505a"/>
<rect x="368.8" y="106.6" width="13.699999999999989" height="3.4000000000000057" fill="#e66a7a"/>
<rect x="382.5" y="106.6" width="11.300000000000011" height="3.4000000000000057" fill="#ec8892"/>
<rect x="393.8" y="106.6" width="14.199999999999989" height="3.4000000000000057" fill="#f2c2d8"/>
<rect x="408" y="106.6" width="10.800000000000011" height="3.4000000000000057" fill="#d8d8f0"/>
<rect x="418.8" y="106.6" width="10.599999999999966" height="3.4000000000000057" fill="#c4c4ea"/>
<rect x="429.4" y="106.6" width="13.100000000000023" height="3.4000000000000057" fill="#8c90d8"/>
<rect x="442.5" y="106.6" width="20.0" height="3.4000000000000057" fill="#6262c2"/>
<rect x="462.5" y="106.6" width="5.600000000000023" height="3.4000000000000057" fill="#3a3aa8"/>
<rect x="349.8" y="42.7" width="118.30000000000001" height="67.3" fill="none" stroke="#111" stroke-width="1.1"/>
<line x1="349.8" y1="89.4" x2="468.1" y2="89.4" stroke="#111" stroke-width="1.1"/>
<text x="346.2" y="44.800000000000004" font-size="7.9" text-anchor="end" stroke="#231f20" stroke-width="0.22">0.0</text>
<text x="346.2" y="67.5" font-size="7.9" text-anchor="end" stroke="#231f20" stroke-width="0.22">–0.3</text>
<text x="346.2" y="89.39999999999999" font-size="7.9" text-anchor="end" stroke="#231f20" stroke-width="0.22">–0.6</text>
<path d="M349.9,42.9 L356.0,46.7 L362.4,50.6 L362.9,49.1 L364.5,50.3 L366.3,51.1 L368.2,49.6 L370.6,50.6 L372.5,49.4 L374.9,50.4 L375.9,49.6 L377.8,51.1 L379.7,52.3 L385.5,55.4 L386.5,55.9 L387.4,55.4 L397.0,61.4 L405.0,66.2 L415.0,72.2 L425.0,78.1 L430.0,81.4 L433.8,82.5 L436.0,83.6 L438.5,85.4 L439.6,83.5 L441.0,84.6 L442.7,86.2 L443.5,82.5 L445.5,84.2 L447.3,85.4 L448.5,83.5 L450.8,86.2 L452.3,84.8 L454.5,86.2 L456.2,87.1 L458.1,85.4 L458.8,78.1 L460.8,75.4 L461.5,75.0 L462.7,76.2 L463.8,71.5 L465.0,70.0 L465.4,67.7 L465.6,61.5 L466.4,60.3 L466.6,42.9" stroke="#2db03a" stroke-width="1.45" fill="none" stroke-linejoin="round"/>
<text x="350.4" y="26.6" font-size="9.2" stroke="#231f20" stroke-width="0.22" textLength="117.4" lengthAdjust="spacingAndGlyphs">TONKS_targets_of_RUNX1-</text>
<text x="350.4" y="38.1" font-size="9.2" stroke="#231f20" stroke-width="0.22" textLength="69.4" lengthAdjust="spacingAndGlyphs">RUNX1T1 fusion</text>
<text x="349.8" y="120.8" font-size="8.3" fill="#d13a5a" stroke="#d13a5a" stroke-width="0.22" textLength="33.5" lengthAdjust="spacingAndGlyphs">Plcg1 k/d</text>
<text x="423.8" y="120.8" font-size="8.3" fill="#2f6aa0" stroke="#2f6aa0" stroke-width="0.22" textLength="38.5" lengthAdjust="spacingAndGlyphs">NT-control</text>
<text x="353.0" y="74.3" font-size="7.9" stroke="#231f20" stroke-width="0.22" textLength="40.7" lengthAdjust="spacingAndGlyphs">NES=–2.354</text>
<text x="353.0" y="83.0" font-size="7.9" stroke="#231f20" stroke-width="0.22" textLength="46.4" lengthAdjust="spacingAndGlyphs">p-value=0.003</text>
<text x="325.2" y="75.85" font-size="9.3" text-anchor="middle" stroke="#231f20" stroke-width="0.22" textLength="57" lengthAdjust="spacingAndGlyphs" transform="rotate(-90 325.2 75.85)">Enrichment score</text>
<line x1="351.9" y1="211.2" x2="351.9" y2="227.4" stroke="#8c8c8c" stroke-width="0.6"/>
<line x1="354.4" y1="211.2" x2="354.4" y2="227.4" stroke="#8c8c8c" stroke-width="0.5"/>
<line x1="355.6" y1="211.2" x2="355.6" y2="227.4" stroke="#7c7c7c" stroke-width="0.5"/>
<line x1="359.4" y1="211.2" x2="359.4" y2="227.4" stroke="#8c8c8c" stroke-width="0.6"/>
<line x1="360.6" y1="211.2" x2="360.6" y2="227.4" stroke="#7c7c7c" stroke-width="0.5"/>
<line x1="362.3" y1="211.2" x2="362.3" y2="227.4" stroke="#333" stroke-width="0.8"/>
<line x1="378.8" y1="211.2" x2="378.8" y2="227.4" stroke="#a4a4a4" stroke-width="1.2"/>
<line x1="381.2" y1="211.2" x2="381.2" y2="227.4" stroke="#7c7c7c" stroke-width="0.5"/>
<line x1="383.1" y1="211.2" x2="383.1" y2="227.4" stroke="#7c7c7c" stroke-width="0.5"/>
<line x1="388.8" y1="211.2" x2="388.8" y2="227.4" stroke="#8c8c8c" stroke-width="0.6"/>
<line x1="393.1" y1="211.2" x2="393.1" y2="227.4" stroke="#7c7c7c" stroke-width="0.5"/>
<line x1="399.4" y1="211.2" x2="399.4" y2="227.4" stroke="#a4a4a4" stroke-width="1.0"/>
<line x1="405.6" y1="211.2" x2="405.6" y2="227.4" stroke="#6c6c6c" stroke-width="0.5"/>
<line x1="406.2" y1="211.2" x2="406.2" y2="227.4" stroke="#8c8c8c" stroke-width="0.5"/>
<line x1="408.8" y1="211.2" x2="408.8" y2="227.4" stroke="#7c7c7c" stroke-width="0.5"/>
<line x1="414.4" y1="211.2" x2="414.4" y2="227.4" stroke="#8c8c8c" stroke-width="0.5"/>
<line x1="417.2" y1="211.2" x2="417.2" y2="227.4" stroke="#6c6c6c" stroke-width="0.5"/>
<line x1="433.8" y1="211.2" x2="433.8" y2="227.4" stroke="#7c7c7c" stroke-width="0.5"/>
<line x1="441.9" y1="211.2" x2="441.9" y2="227.4" stroke="#6c6c6c" stroke-width="0.5"/>
<line x1="449.4" y1="211.2" x2="449.4" y2="227.4" stroke="#5c5c5c" stroke-width="0.5"/>
<line x1="458.8" y1="211.2" x2="458.8" y2="227.4" stroke="#6c6c6c" stroke-width="0.5"/>
<line x1="461.9" y1="211.2" x2="461.9" y2="227.4" stroke="#7c7c7c" stroke-width="0.5"/>
<line x1="465.0" y1="211.2" x2="465.0" y2="227.4" stroke="#6c6c6c" stroke-width="0.5"/>
<line x1="466.9" y1="211.2" x2="466.9" y2="227.4" stroke="#5c5c5c" stroke-width="0.5"/>
<rect x="349.8" y="227.4" width="14.0" height="3.9000000000000057" fill="#e65058"/>
<rect x="363.8" y="227.4" width="8.099999999999966" height="3.9000000000000057" fill="#e66a7a"/>
<rect x="371.9" y="227.4" width="11.900000000000034" height="3.9000000000000057" fill="#ec8492"/>
<rect x="383.8" y="227.4" width="18.099999999999966" height="3.9000000000000057" fill="#f4c4da"/>
<rect x="401.9" y="227.4" width="15.600000000000023" height="3.9000000000000057" fill="#d4d6f0"/>
<rect x="417.5" y="227.4" width="15.5" height="3.9000000000000057" fill="#c2c2e8"/>
<rect x="433" y="227.4" width="13.899999999999977" height="3.9000000000000057" fill="#8288d2"/>
<rect x="446.9" y="227.4" width="21.200000000000045" height="3.9000000000000057" fill="#5252ba"/>
<rect x="349.8" y="162.7" width="118.30000000000001" height="68.60000000000002" fill="none" stroke="#111" stroke-width="1.1"/>
<line x1="349.8" y1="211.2" x2="468.1" y2="211.2" stroke="#111" stroke-width="1.1"/>
<text x="346.2" y="178.9" font-size="7.9" text-anchor="end" stroke="#231f20" stroke-width="0.22">0.0</text>
<text x="346.2" y="209.4" font-size="7.9" text-anchor="end" stroke="#231f20" stroke-width="0.22">–0.6</text>
<line x1="349.8" y1="176.6" x2="468.1" y2="176.6" stroke="#111" stroke-width="1.1"/>
<path d="M349.7,177.3 L350.4,171.5 L351.4,172.5 L352.6,169.1 L353.6,170.4 L355.2,167.7 L356.5,169.4 L357.6,168.2 L359.1,169.6 L360.5,168.2 L361.5,169.1 L362.9,165.3 L377.8,173.0 L380.7,173.3 L384.5,174.4 L397.0,181.2 L410.0,187.7 L420.0,192.7 L433.2,199.2 L441.2,202.7 L442.3,202.1 L448.4,206.0 L449.8,204.6 L451.6,205.6 L457.3,208.9 L458.5,205.6 L459.9,206.7 L462.1,203.9 L463.5,205.0 L464.3,201.7 L466.0,198.8 L466.9,196.6 L467.4,177.9 L467.5,176.5" stroke="#2db03a" stroke-width="1.45" fill="none" stroke-linejoin="round"/>
<text x="350.4" y="146.6" font-size="9.2" stroke="#231f20" stroke-width="0.22" textLength="84.4" lengthAdjust="spacingAndGlyphs">PTASINSKA_AE k/d</text>
<text x="350.4" y="158.1" font-size="9.2" stroke="#231f20" stroke-width="0.22" textLength="89.0" lengthAdjust="spacingAndGlyphs">kasumi_Plcg1 targets</text>
<text x="349.8" y="242.10000000000002" font-size="8.3" fill="#d13a5a" stroke="#d13a5a" stroke-width="0.22" textLength="23.5" lengthAdjust="spacingAndGlyphs">AE k/d</text>
<text x="442.0" y="242.10000000000002" font-size="8.3" fill="#2f6aa0" stroke="#2f6aa0" stroke-width="0.22" textLength="27.5" lengthAdjust="spacingAndGlyphs">MM k/d</text>
<text x="353.0" y="194.3" font-size="7.9" stroke="#231f20" stroke-width="0.22" textLength="36.6" lengthAdjust="spacingAndGlyphs">NES=–1.57</text>
<text x="353.0" y="203.0" font-size="7.9" stroke="#231f20" stroke-width="0.22" textLength="46.4" lengthAdjust="spacingAndGlyphs">p-value=0.036</text>
<text x="325.2" y="196.5" font-size="9.3" text-anchor="middle" stroke="#231f20" stroke-width="0.22" textLength="57" lengthAdjust="spacingAndGlyphs" transform="rotate(-90 325.2 196.5)">Enrichment score</text>
<text x="7.3" y="176.3" font-size="11" font-weight="bold" fill="#000" stroke="#000" stroke-width="0.35">I</text>
<defs>
<g id="mouse">
<path d="M0.3,10 C0,4.5 4.2,0.6 9.8,0.5 C12.6,0.5 14.6,1.4 15.8,2.4 L17.4,3.4 C19.0,4.8 19.8,6.6 20.2,8.2 L19.2,9.0 L17.4,9.6 L16.6,10.7 L15.6,10.0 L10.2,10.1 L9.6,11.3 L8.6,10.2 Z" fill="#111"/>
<circle cx="16.0" cy="1.6" r="2.0" fill="#151515"/>
<circle cx="16.0" cy="1.7" r="1.0" fill="none" stroke="#777" stroke-width="0.45"/>
<circle cx="15.7" cy="6.0" r="0.8" fill="#fff"/>
<path d="M6.6,4.4 C5.7,6 6.6,8.1 8.4,9.3" stroke="#ccc" stroke-width="0.6" fill="none"/>
<path d="M13.0,2.6 C11.0,3.3 10.9,5.9 12.8,6.6" stroke="#ccc" stroke-width="0.6" fill="none"/>
<path d="M0.4,10 C-0.6,11.5 0.2,12.8 3,12.9 L17.5,14 L18.6,13.3" stroke="#777" stroke-width="0.6" fill="none"/>
<path d="M20.3,7.6 L21.8,6.9 M20.4,8.2 L21.7,8.5" stroke="#666" stroke-width="0.35"/>
</g>

</defs>
<use href="#mouse" transform="translate(20.6 191.4) scale(1.0)"/>
<use href="#mouse" transform="translate(20.6 235.2) scale(1.0)"/>
<use href="#mouse" transform="translate(144.9 191.5) scale(0.97)"/>
<use href="#mouse" transform="translate(144.9 235.3) scale(0.97)"/>
<use href="#mouse" transform="translate(221.6 235.2) scale(1.0)"/>
<text x="17.6" y="185.8" font-size="7.8" stroke="#231f20" stroke-width="0.22">Plcg1<tspan font-size="6" dy="-3.4" stroke-width="0.08">+/+</tspan></text>
<text x="17.6" y="259.5" font-size="7.8" stroke="#231f20" stroke-width="0.22">Plcg1<tspan font-size="6" dy="-3.4" stroke-width="0.08">F/F</tspan></text>
<circle cx="31.2" cy="217.5" r="3.6" fill="#7fa6cc"/>
<circle cx="37.8" cy="217.4" r="3.7" fill="#7fa6cc"/>
<circle cx="37.0" cy="223.0" r="3.4" fill="#7fa6cc"/>
<circle cx="30.6" cy="224.0" r="3.7" fill="#7fa6cc"/>
<circle cx="31.7" cy="217.9" r="2.16" fill="#0f4d8c"/>
<circle cx="38.3" cy="217.8" r="2.22" fill="#0f4d8c"/>
<circle cx="37.5" cy="223.4" r="2.04" fill="#0f4d8c"/>
<circle cx="31.1" cy="224.4" r="2.22" fill="#0f4d8c"/>
<line x1="48.0" y1="220.3" x2="71.7" y2="220.3" stroke="#111" stroke-width="1.1"/>
<path d="M75.50,220.30 L71.70,222.50 L71.70,218.10 Z" stroke="none" stroke-width="1" fill="#111"/>
<text x="60.2" y="217.4" font-size="7.8" text-anchor="middle" stroke="#231f20" stroke-width="0.22">LSK</text>
<ellipse cx="85.6" cy="220.5" rx="4.6" ry="2.1" fill="#8a8f96"/>
<ellipse cx="85.6" cy="220.2" rx="3.3" ry="1.0" fill="#ea6a7e"/>
<circle cx="83.1" cy="213.7" r="1.7" fill="#f0a040"/>
<circle cx="83.1" cy="213.7" r="0.9" fill="#2a1a6a"/>
<circle cx="89.5" cy="214.4" r="1.7" fill="#6aa040"/>
<circle cx="89.5" cy="214.4" r="0.9" fill="#2a1a6a"/>
<circle cx="86.1" cy="216.6" r="1.7" fill="#f0a040"/>
<circle cx="86.1" cy="216.6" r="0.9" fill="#2a1a6a"/>
<text x="87.5" y="235.2" font-size="7.8" text-anchor="middle" stroke="#231f20" stroke-width="0.22" textLength="39" lengthAdjust="spacingAndGlyphs">AE/K-GFP</text>
<line x1="97.3" y1="220.6" x2="121.5" y2="220.6" stroke="#111" stroke-width="1.1"/>
<path d="M125.30,220.60 L121.50,222.80 L121.50,218.40 Z" stroke="none" stroke-width="1" fill="#111"/>
<circle cx="139.6" cy="221.8" r="2.8" fill="#e2f0e2" stroke="#2fb24a" stroke-width="1.2" opacity="0.6"/>
<circle cx="134.1" cy="217.4" r="3.2" fill="#e2f0e2" stroke="#2fb24a" stroke-width="1.2" opacity="1"/>
<circle cx="141.0" cy="217.6" r="3.2" fill="#e2f0e2" stroke="#2fb24a" stroke-width="1.2" opacity="1"/>
<circle cx="133.6" cy="223.8" r="3.3" fill="#e2f0e2" stroke="#2fb24a" stroke-width="1.2" opacity="1"/>
<g transform="translate(162.7 220.6)">
<circle cx="0" cy="0" r="4.6" fill="#f2c21b"/>
<circle r="4.6" fill="none" stroke="#caa000" stroke-width="0.4"/>
<path d="M-0.60,-1.04 L-1.95,-3.38 A3.9,3.9 0 0 1 1.95,-3.38 L0.60,-1.04 A1.2,1.2 0 0 0 -0.60,-1.04 Z" stroke="none" stroke-width="1" fill="#1a1a1a"/>
<path d="M1.20,0.00 L3.90,0.00 A3.9,3.9 0 0 1 1.95,3.38 L0.60,1.04 A1.2,1.2 0 0 0 1.20,0.00 Z" stroke="none" stroke-width="1" fill="#1a1a1a"/>
<path d="M-0.60,1.04 L-1.95,3.38 A3.9,3.9 0 0 1 -3.90,0.00 L-1.20,0.00 A1.2,1.2 0 0 0 -0.60,1.04 Z" stroke="none" stroke-width="1" fill="#1a1a1a"/>
<circle cx="0" cy="0" r="0.75" fill="#1a1a1a"/>
</g>
<g transform="translate(214.6 239.6)">
<circle cx="0" cy="0" r="4.6" fill="#f2c21b"/>
<circle r="4.6" fill="none" stroke="#caa000" stroke-width="0.4"/>
<path d="M-0.60,-1.04 L-1.95,-3.38 A3.9,3.9 0 0 1 1.95,-3.38 L0.60,-1.04 A1.2,1.2 0 0 0 -0.60,-1.04 Z" stroke="none" stroke-width="1" fill="#1a1a1a"/>
<path d="M1.20,0.00 L3.90,0.00 A3.9,3.9 0 0 1 1.95,3.38 L0.60,1.04 A1.2,1.2 0 0 0 1.20,0.00 Z" stroke="none" stroke-width="1" fill="#1a1a1a"/>
<path d="M-0.60,1.04 L-1.95,3.38 A3.9,3.9 0 0 1 -3.90,0.00 L-1.20,0.00 A1.2,1.2 0 0 0 -0.60,1.04 Z" stroke="none" stroke-width="1" fill="#1a1a1a"/>
<circle cx="0" cy="0" r="0.75" fill="#1a1a1a"/>
</g>
<text x="187.4" y="206.3" font-size="8.3" text-anchor="middle" stroke="#231f20" stroke-width="0.22">plpC</text>
<line x1="181.0" y1="208.8" x2="181.0" y2="215.20000000000002" stroke="#111" stroke-width="1.0"/>
<path d="M181.00,218.40 L179.14,215.20 L182.86,215.20 Z" stroke="none" stroke-width="1" fill="#111"/>
<line x1="185.8" y1="208.8" x2="185.8" y2="215.20000000000002" stroke="#111" stroke-width="1.0"/>
<path d="M185.80,218.40 L183.94,215.20 L187.66,215.20 Z" stroke="none" stroke-width="1" fill="#111"/>
<line x1="190.6" y1="208.8" x2="190.6" y2="215.20000000000002" stroke="#111" stroke-width="1.0"/>
<path d="M190.60,218.40 L188.74,215.20 L192.46,215.20 Z" stroke="none" stroke-width="1" fill="#111"/>
<line x1="175.2" y1="220.4" x2="199.5" y2="220.4" stroke="#111" stroke-width="1.1"/>
<path d="M203.30,220.40 L199.50,222.60 L199.50,218.20 Z" stroke="none" stroke-width="1" fill="#111"/>
<line x1="206.9" y1="218.9" x2="219.0656125210488" y2="214.09574537385333" stroke="#111" stroke-width="1.1"/>
<path d="M222.60,212.70 L219.88,216.15 L218.26,212.05 Z" stroke="none" stroke-width="1" fill="#111"/>
<line x1="206.9" y1="221.5" x2="219.01369451256366" y2="225.74365094389174" stroke="#111" stroke-width="1.1"/>
<path d="M222.60,227.00 L218.29,227.82 L219.74,223.66 Z" stroke="none" stroke-width="1" fill="#111"/>
<line x1="225.4" y1="199.0" x2="225.4" y2="205.2" stroke="#111" stroke-width="1.0"/>
<path d="M225.40,208.60 L223.43,205.20 L227.37,205.20 Z" stroke="none" stroke-width="1" fill="#111"/>
<line x1="229.2" y1="199.0" x2="229.2" y2="205.2" stroke="#111" stroke-width="1.0"/>
<path d="M229.20,208.60 L227.23,205.20 L231.17,205.20 Z" stroke="none" stroke-width="1" fill="#111"/>
<line x1="233.0" y1="199.0" x2="233.0" y2="205.2" stroke="#111" stroke-width="1.0"/>
<path d="M233.00,208.60 L231.03,205.20 L234.97,205.20 Z" stroke="none" stroke-width="1" fill="#111"/>
<line x1="236.8" y1="199.0" x2="236.8" y2="205.2" stroke="#111" stroke-width="1.0"/>
<path d="M236.80,208.60 L234.83,205.20 L238.77,205.20 Z" stroke="none" stroke-width="1" fill="#111"/>
<line x1="225.0" y1="212.3" x2="237.39999999999998" y2="212.3" stroke="#111" stroke-width="1.1"/>
<path d="M241.20,212.30 L237.40,214.50 L237.40,210.10 Z" stroke="none" stroke-width="1" fill="#111"/>
<text x="246.6" y="205.8" font-size="7.8" stroke="#231f20" stroke-width="0.22" textLength="37.5" lengthAdjust="spacingAndGlyphs">Chimerism</text>
<text x="246.6" y="215.0" font-size="7.8" stroke="#231f20" stroke-width="0.22" textLength="32.5" lengthAdjust="spacingAndGlyphs">GFP+ PB</text>
<text x="246.6" y="241.2" font-size="7.8" stroke="#231f20" stroke-width="0.22" textLength="37" lengthAdjust="spacingAndGlyphs">Secondary</text>
<text x="246.6" y="249.4" font-size="7.8" stroke="#231f20" stroke-width="0.22" textLength="34.2" lengthAdjust="spacingAndGlyphs">recipients</text>
<text x="5.8" y="278.6" font-size="11.3" font-weight="bold" fill="#000" stroke="#000" stroke-width="0.35">J</text>
<line x1="41.2" y1="300.8" x2="41.2" y2="370.3" stroke="#111" stroke-width="1.3"/>
<line x1="40.6" y1="369.7" x2="165.4" y2="369.7" stroke="#111" stroke-width="1.3"/>
<line x1="38.2" y1="301.51" x2="41.2" y2="301.51" stroke="#111" stroke-width="0.9"/>
<text x="35.8" y="304.31" font-size="8.0" text-anchor="end" stroke="#231f20" stroke-width="0.22">100</text>
<line x1="38.2" y1="324.24" x2="41.2" y2="324.24" stroke="#111" stroke-width="0.9"/>
<text x="35.8" y="327.04" font-size="8.0" text-anchor="end" stroke="#231f20" stroke-width="0.22">10</text>
<line x1="38.2" y1="346.96999999999997" x2="41.2" y2="346.96999999999997" stroke="#111" stroke-width="0.9"/>
<text x="35.8" y="349.77" font-size="8.0" text-anchor="end" stroke="#231f20" stroke-width="0.22">1</text>
<line x1="38.2" y1="369.7" x2="41.2" y2="369.7" stroke="#111" stroke-width="0.9"/>
<text x="35.8" y="372.5" font-size="8.0" text-anchor="end" stroke="#231f20" stroke-width="0.22">0.1</text>
<line x1="39.400000000000006" y1="362.8575881985577" x2="41.2" y2="362.8575881985577" stroke="#111" stroke-width="0.6"/>
<line x1="39.400000000000006" y1="358.85503388022204" x2="41.2" y2="358.85503388022204" stroke="#111" stroke-width="0.6"/>
<line x1="39.400000000000006" y1="356.0151763971154" x2="41.2" y2="356.0151763971154" stroke="#111" stroke-width="0.6"/>
<line x1="39.400000000000006" y1="353.8124118014423" x2="41.2" y2="353.8124118014423" stroke="#111" stroke-width="0.6"/>
<line x1="39.400000000000006" y1="352.01262207877977" x2="41.2" y2="352.01262207877977" stroke="#111" stroke-width="0.6"/>
<line x1="39.400000000000006" y1="350.49092155047595" x2="41.2" y2="350.49092155047595" stroke="#111" stroke-width="0.6"/>
<line x1="39.400000000000006" y1="349.17276459567313" x2="41.2" y2="349.17276459567313" stroke="#111" stroke-width="0.6"/>
<line x1="39.400000000000006" y1="348.01006776044414" x2="41.2" y2="348.01006776044414" stroke="#111" stroke-width="0.6"/>
<line x1="39.400000000000006" y1="340.1275881985577" x2="41.2" y2="340.1275881985577" stroke="#111" stroke-width="0.6"/>
<line x1="39.400000000000006" y1="336.1250338802221" x2="41.2" y2="336.1250338802221" stroke="#111" stroke-width="0.6"/>
<line x1="39.400000000000006" y1="333.2851763971154" x2="41.2" y2="333.2851763971154" stroke="#111" stroke-width="0.6"/>
<line x1="39.400000000000006" y1="331.0824118014423" x2="41.2" y2="331.0824118014423" stroke="#111" stroke-width="0.6"/>
<line x1="39.400000000000006" y1="329.28262207877975" x2="41.2" y2="329.28262207877975" stroke="#111" stroke-width="0.6"/>
<line x1="39.400000000000006" y1="327.7609215504759" x2="41.2" y2="327.7609215504759" stroke="#111" stroke-width="0.6"/>
<line x1="39.400000000000006" y1="326.4427645956731" x2="41.2" y2="326.4427645956731" stroke="#111" stroke-width="0.6"/>
<line x1="39.400000000000006" y1="325.2800677604441" x2="41.2" y2="325.2800677604441" stroke="#111" stroke-width="0.6"/>
<line x1="39.400000000000006" y1="317.3975881985577" x2="41.2" y2="317.3975881985577" stroke="#111" stroke-width="0.6"/>
<line x1="39.400000000000006" y1="313.39503388022206" x2="41.2" y2="313.39503388022206" stroke="#111" stroke-width="0.6"/>
<line x1="39.400000000000006" y1="310.5551763971154" x2="41.2" y2="310.5551763971154" stroke="#111" stroke-width="0.6"/>
<line x1="39.400000000000006" y1="308.35241180144226" x2="41.2" y2="308.35241180144226" stroke="#111" stroke-width="0.6"/>
<line x1="39.400000000000006" y1="306.5526220787798" x2="41.2" y2="306.5526220787798" stroke="#111" stroke-width="0.6"/>
<line x1="39.400000000000006" y1="305.0309215504759" x2="41.2" y2="305.0309215504759" stroke="#111" stroke-width="0.6"/>
<line x1="39.400000000000006" y1="303.7127645956731" x2="41.2" y2="303.7127645956731" stroke="#111" stroke-width="0.6"/>
<line x1="39.400000000000006" y1="302.5500677604441" x2="41.2" y2="302.5500677604441" stroke="#111" stroke-width="0.6"/>
<line x1="41.2" y1="346.96999999999997" x2="165.4" y2="346.96999999999997" stroke="#999" stroke-width="0.9"/>
<line x1="47.4" y1="369.7" x2="47.4" y2="372.3" stroke="#111" stroke-width="0.9"/>
<text x="47.4" y="381.7" font-size="8.2" text-anchor="middle" stroke="#231f20" stroke-width="0.22" textLength="7.8" lengthAdjust="spacingAndGlyphs">14</text>
<line x1="63.4" y1="369.7" x2="63.4" y2="372.3" stroke="#111" stroke-width="0.9"/>
<text x="63.4" y="381.7" font-size="8.2" text-anchor="middle" stroke="#231f20" stroke-width="0.22" textLength="7.8" lengthAdjust="spacingAndGlyphs">28</text>
<line x1="79.4" y1="369.7" x2="79.4" y2="372.3" stroke="#111" stroke-width="0.9"/>
<text x="79.4" y="381.7" font-size="8.2" text-anchor="middle" stroke="#231f20" stroke-width="0.22" textLength="7.8" lengthAdjust="spacingAndGlyphs">42</text>
<line x1="95.4" y1="369.7" x2="95.4" y2="372.3" stroke="#111" stroke-width="0.9"/>
<text x="95.4" y="381.7" font-size="8.2" text-anchor="middle" stroke="#231f20" stroke-width="0.22" textLength="7.8" lengthAdjust="spacingAndGlyphs">49</text>
<line x1="111.2" y1="369.7" x2="111.2" y2="372.3" stroke="#111" stroke-width="0.9"/>
<text x="111.2" y="381.7" font-size="8.2" text-anchor="middle" stroke="#231f20" stroke-width="0.22" textLength="7.8" lengthAdjust="spacingAndGlyphs">56</text>
<line x1="127.2" y1="369.7" x2="127.2" y2="372.3" stroke="#111" stroke-width="0.9"/>
<text x="127.2" y="381.7" font-size="8.2" text-anchor="middle" stroke="#231f20" stroke-width="0.22" textLength="7.8" lengthAdjust="spacingAndGlyphs">70</text>
<line x1="143.1" y1="369.7" x2="143.1" y2="372.3" stroke="#111" stroke-width="0.9"/>
<text x="143.1" y="381.7" font-size="8.2" text-anchor="middle" stroke="#231f20" stroke-width="0.22" textLength="7.8" lengthAdjust="spacingAndGlyphs">84</text>
<line x1="159.6" y1="369.7" x2="159.6" y2="372.3" stroke="#111" stroke-width="0.9"/>
<text x="159.6" y="381.7" font-size="8.2" text-anchor="middle" stroke="#231f20" stroke-width="0.22" textLength="11.7" lengthAdjust="spacingAndGlyphs">108</text>
<text x="103.6" y="394.8" font-size="9.3" text-anchor="middle" stroke="#231f20" stroke-width="0.22" textLength="67.4" lengthAdjust="spacingAndGlyphs">Days post-transplant</text>
<text x="17.4" y="335.6" font-size="9.5" text-anchor="middle" stroke="#231f20" stroke-width="0.22" textLength="61" lengthAdjust="spacingAndGlyphs" transform="rotate(-90 17.4 335.6)">% GFP<tspan font-size="6" dy="-3.5" stroke-width="0.08">+</tspan><tspan dy="3.5"> cells in PB</tspan></text>
<text x="56.4" y="284.4" font-size="7.6" text-anchor="middle" stroke="#231f20" stroke-width="0.22">plpC</text>
<line x1="51.4" y1="287.0" x2="51.4" y2="293.20000000000005" stroke="#111" stroke-width="1.1"/>
<path d="M51.40,296.60 L49.43,293.20 L53.37,293.20 Z" stroke="none" stroke-width="1" fill="#111"/>
<line x1="55.8" y1="287.0" x2="55.8" y2="293.20000000000005" stroke="#111" stroke-width="1.1"/>
<path d="M55.80,296.60 L53.83,293.20 L57.77,293.20 Z" stroke="none" stroke-width="1" fill="#111"/>
<line x1="60.3" y1="287.0" x2="60.3" y2="293.20000000000005" stroke="#111" stroke-width="1.1"/>
<path d="M60.30,296.60 L58.33,293.20 L62.27,293.20 Z" stroke="none" stroke-width="1" fill="#111"/>
<circle cx="41.8" cy="332.6" r="1.45" fill="#cc0e36"/>
<circle cx="42.8" cy="330.4" r="1.45" fill="#cc0e36"/>
<circle cx="43.6" cy="329.5" r="1.45" fill="#cc0e36"/>
<circle cx="44.8" cy="334.9" r="1.45" fill="#cc0e36"/>
<circle cx="44.3" cy="340.0" r="1.45" fill="#cc0e36"/>
<circle cx="44.3" cy="343.0" r="1.45" fill="#cc0e36"/>
<circle cx="47.0" cy="329.5" r="1.45" fill="#cc0e36"/>
<circle cx="48.1" cy="328.4" r="1.45" fill="#cc0e36"/>
<circle cx="59.1" cy="305.5" r="1.45" fill="#cc0e36"/>
<circle cx="62.9" cy="305.5" r="1.45" fill="#cc0e36"/>
<circle cx="60.3" cy="308.4" r="1.45" fill="#cc0e36"/>
<circle cx="60.3" cy="311.0" r="1.45" fill="#cc0e36"/>
<circle cx="60.3" cy="325.0" r="1.45" fill="#cc0e36"/>
<circle cx="60.3" cy="326.1" r="1.45" fill="#cc0e36"/>
<circle cx="73.7" cy="305.0" r="1.45" fill="#cc0e36"/>
<circle cx="77.5" cy="306.6" r="1.45" fill="#cc0e36"/>
<circle cx="79.0" cy="321.3" r="1.45" fill="#cc0e36"/>
<circle cx="75.2" cy="324.6" r="1.45" fill="#cc0e36"/>
<circle cx="47.8" cy="330.7" r="1.45" fill="#114e8e"/>
<circle cx="50.4" cy="321.9" r="1.45" fill="#114e8e"/>
<circle cx="50.4" cy="325.7" r="1.45" fill="#114e8e"/>
<circle cx="51.6" cy="329.5" r="1.45" fill="#114e8e"/>
<circle cx="49.8" cy="334.1" r="1.45" fill="#114e8e"/>
<circle cx="53.1" cy="333.2" r="1.45" fill="#114e8e"/>
<circle cx="50.4" cy="340.9" r="1.45" fill="#114e8e"/>
<circle cx="50.4" cy="346.2" r="1.45" fill="#114e8e"/>
<circle cx="66.3" cy="306.9" r="1.45" fill="#114e8e"/>
<circle cx="66.3" cy="310.3" r="1.45" fill="#114e8e"/>
<circle cx="66.3" cy="311.5" r="1.45" fill="#114e8e"/>
<circle cx="66.3" cy="325.8" r="1.45" fill="#114e8e"/>
<circle cx="66.3" cy="327.6" r="1.45" fill="#114e8e"/>
<circle cx="68.9" cy="332.5" r="1.45" fill="#114e8e"/>
<circle cx="65.4" cy="336.2" r="1.45" fill="#114e8e"/>
<circle cx="82.1" cy="326.9" r="1.45" fill="#114e8e"/>
<circle cx="82.1" cy="339.0" r="1.45" fill="#114e8e"/>
<circle cx="98.0" cy="335.6" r="1.45" fill="#114e8e"/>
<circle cx="98.0" cy="339.0" r="1.45" fill="#114e8e"/>
<circle cx="98.0" cy="340.0" r="1.45" fill="#114e8e"/>
<circle cx="111.2" cy="342.0" r="1.45" fill="#114e8e"/>
<circle cx="115.0" cy="343.7" r="1.45" fill="#114e8e"/>
<circle cx="114.0" cy="355.4" r="1.45" fill="#114e8e"/>
<circle cx="130.0" cy="348.0" r="1.45" fill="#114e8e"/>
<circle cx="130.0" cy="349.4" r="1.45" fill="#114e8e"/>
<circle cx="130.0" cy="351.8" r="1.45" fill="#114e8e"/>
<circle cx="145.6" cy="347.3" r="1.45" fill="#114e8e"/>
<circle cx="145.6" cy="348.4" r="1.45" fill="#114e8e"/>
<circle cx="161.8" cy="342.6" r="1.45" fill="#114e8e"/>
<circle cx="164.3" cy="350.7" r="1.45" fill="#114e8e"/>
<circle cx="160.5" cy="353.9" r="1.45" fill="#114e8e"/>
<circle cx="122.5" cy="294.9" r="1.45" fill="#cc0e36"/>
<circle cx="122.5" cy="306.1" r="1.45" fill="#114e8e"/>
<text x="127.8" y="298.0" font-size="7.6" stroke="#231f20" stroke-width="0.22">Plcg1<tspan font-size="6" dy="-3.4" stroke-width="0.08">+/+</tspan></text>
<text x="127.8" y="309.1" font-size="7.6" stroke="#231f20" stroke-width="0.22">Plcg1<tspan font-size="6" dy="-3.4" stroke-width="0.08">–/–</tspan></text>
<text x="182.4" y="278.5" font-size="11.3" font-weight="bold" fill="#000" stroke="#000" stroke-width="0.35">K</text>
<line x1="214.2" y1="300.2" x2="214.2" y2="369.0" stroke="#111" stroke-width="1.3"/>
<line x1="213.6" y1="368.4" x2="317.2" y2="368.4" stroke="#111" stroke-width="1.3"/>
<line x1="211.39999999999998" y1="368.4" x2="214.2" y2="368.4" stroke="#111" stroke-width="0.9"/>
<text x="208.4" y="370.79999999999995" font-size="8.1" text-anchor="end" stroke="#231f20" stroke-width="0.22">0</text>
<line x1="211.39999999999998" y1="337.15" x2="214.2" y2="337.15" stroke="#111" stroke-width="0.9"/>
<text x="208.4" y="339.54999999999995" font-size="8.1" text-anchor="end" stroke="#231f20" stroke-width="0.22">50</text>
<line x1="211.39999999999998" y1="305.9" x2="214.2" y2="305.9" stroke="#111" stroke-width="0.9"/>
<text x="208.4" y="308.29999999999995" font-size="8.1" text-anchor="end" stroke="#231f20" stroke-width="0.22">100</text>
<line x1="214.2" y1="368.4" x2="214.2" y2="371.0" stroke="#111" stroke-width="0.9"/>
<text x="214.2" y="379.4" font-size="8.0" text-anchor="middle" stroke="#231f20" stroke-width="0.22" textLength="4.15" lengthAdjust="spacingAndGlyphs">0</text>
<line x1="256.95" y1="368.4" x2="256.95" y2="371.0" stroke="#111" stroke-width="0.9"/>
<text x="256.95" y="379.4" font-size="8.0" text-anchor="middle" stroke="#231f20" stroke-width="0.22" textLength="8.3" lengthAdjust="spacingAndGlyphs">50</text>
<line x1="299.7" y1="368.4" x2="299.7" y2="371.0" stroke="#111" stroke-width="0.9"/>
<text x="299.7" y="379.4" font-size="8.0" text-anchor="middle" stroke="#231f20" stroke-width="0.22" textLength="12.450000000000001" lengthAdjust="spacingAndGlyphs">100</text>
<text x="265.6" y="390.0" font-size="9.3" text-anchor="middle" stroke="#231f20" stroke-width="0.22" textLength="15.0" lengthAdjust="spacingAndGlyphs">Days</text>
<text x="192.0" y="334.5" font-size="9.3" text-anchor="middle" stroke="#231f20" stroke-width="0.22" textLength="54.2" lengthAdjust="spacingAndGlyphs" transform="rotate(-90 192.0 334.5)">Percent survival</text>
<text x="226.7" y="288.9" font-size="7.6" text-anchor="middle" stroke="#231f20" stroke-width="0.22">plpC</text>
<line x1="222.0" y1="292.3" x2="222.0" y2="298.5" stroke="#111" stroke-width="1.1"/>
<path d="M222.00,301.90 L220.03,298.50 L223.97,298.50 Z" stroke="none" stroke-width="1" fill="#111"/>
<line x1="226.2" y1="292.3" x2="226.2" y2="298.5" stroke="#111" stroke-width="1.1"/>
<path d="M226.20,301.90 L224.23,298.50 L228.17,298.50 Z" stroke="none" stroke-width="1" fill="#111"/>
<line x1="230.4" y1="292.3" x2="230.4" y2="298.5" stroke="#111" stroke-width="1.1"/>
<path d="M230.40,301.90 L228.43,298.50 L232.37,298.50 Z" stroke="none" stroke-width="1" fill="#111"/>
<path d="M214.2,305.9 L240.1,305.9 L240.1,312.3 L242.0,312.3 L242.0,319.7 L251.2,319.7 L251.2,331.5 L306.6,331.5" stroke="#22558f" stroke-width="1.3" fill="none"/>
<path d="M214.2,305.9 L236.2,305.9 L236.2,315.8 L236.9,315.8 L236.9,324.6 L238.0,324.6 L238.0,330.1 L242.4,330.1 L242.4,335.4 L248.9,335.4 L248.9,351.1 L254.2,351.1 L254.2,360.4 L255.8,360.4 L255.8,368.4" stroke="#d01c3e" stroke-width="1.3" fill="none"/>
<line x1="249.0" y1="294.8" x2="257.8" y2="294.8" stroke="#22558f" stroke-width="1.3"/>
<line x1="249.0" y1="306.9" x2="257.8" y2="306.9" stroke="#d01c3e" stroke-width="1.3"/>
<line x1="253.4" y1="293.8" x2="253.4" y2="294.8" stroke="#111" stroke-width="0.8"/>
<line x1="253.4" y1="305.9" x2="253.4" y2="306.9" stroke="#111" stroke-width="0.8"/>
<text x="260.9" y="297.3" font-size="7.6" stroke="#231f20" stroke-width="0.22" textLength="50.3" lengthAdjust="spacingAndGlyphs">Plcg1<tspan font-size="6" dy="-3.4" stroke-width="0.08">–/–</tspan><tspan dy="3.3"> (n=12)</tspan></text>
<text x="260.9" y="309.5" font-size="7.6" stroke="#231f20" stroke-width="0.22" textLength="50.3" lengthAdjust="spacingAndGlyphs">Plcg1<tspan font-size="6" dy="-3.4" stroke-width="0.08">+/+</tspan><tspan dy="3.3"> (n=12)</tspan></text>
<text x="260.0" y="321.6" font-size="7.6" stroke="#231f20" stroke-width="0.22" textLength="32.3" lengthAdjust="spacingAndGlyphs"><tspan font-style="italic">p</tspan>=0.0209</text>
<text x="335.8" y="278.4" font-size="11.3" font-weight="bold" fill="#000" stroke="#000" stroke-width="0.35">L</text>
<line x1="371.4" y1="297.6" x2="371.4" y2="379.3" stroke="#111" stroke-width="1.3"/>
<line x1="370.79999999999995" y1="378.7" x2="410.2" y2="378.7" stroke="#111" stroke-width="1.3"/>
<line x1="368.4" y1="378.7" x2="371.4" y2="378.7" stroke="#111" stroke-width="0.9"/>
<text x="369.0" y="381.5" font-size="7.8" text-anchor="end" stroke="#231f20" stroke-width="0.22">10<tspan font-size="5.2" dy="-3.4" stroke-width="0.08">0</tspan></text>
<line x1="368.4" y1="358.59999999999997" x2="371.4" y2="358.59999999999997" stroke="#111" stroke-width="0.9"/>
<text x="369.0" y="361.4" font-size="7.8" text-anchor="end" stroke="#231f20" stroke-width="0.22">10<tspan font-size="5.2" dy="-3.4" stroke-width="0.08">1</tspan></text>
<line x1="368.4" y1="338.5" x2="371.4" y2="338.5" stroke="#111" stroke-width="0.9"/>
<text x="369.0" y="341.3" font-size="7.8" text-anchor="end" stroke="#231f20" stroke-width="0.22">10<tspan font-size="5.2" dy="-3.4" stroke-width="0.08">2</tspan></text>
<line x1="368.4" y1="318.4" x2="371.4" y2="318.4" stroke="#111" stroke-width="0.9"/>
<text x="369.0" y="321.2" font-size="7.8" text-anchor="end" stroke="#231f20" stroke-width="0.22">10<tspan font-size="5.2" dy="-3.4" stroke-width="0.08">3</tspan></text>
<line x1="368.4" y1="298.29999999999995" x2="371.4" y2="298.29999999999995" stroke="#111" stroke-width="0.9"/>
<text x="369.0" y="301.09999999999997" font-size="7.8" text-anchor="end" stroke="#231f20" stroke-width="0.22">10<tspan font-size="5.2" dy="-3.4" stroke-width="0.08">4</tspan></text>
<line x1="369.59999999999997" y1="372.64929708715397" x2="371.4" y2="372.64929708715397" stroke="#111" stroke-width="0.55"/>
<line x1="369.59999999999997" y1="369.1098627801348" x2="371.4" y2="369.1098627801348" stroke="#111" stroke-width="0.55"/>
<line x1="369.59999999999997" y1="366.59859417430795" x2="371.4" y2="366.59859417430795" stroke="#111" stroke-width="0.55"/>
<line x1="369.59999999999997" y1="364.650702912846" x2="371.4" y2="364.650702912846" stroke="#111" stroke-width="0.55"/>
<line x1="369.59999999999997" y1="363.05915986728877" x2="371.4" y2="363.05915986728877" stroke="#111" stroke-width="0.55"/>
<line x1="369.59999999999997" y1="361.7135293957134" x2="371.4" y2="361.7135293957134" stroke="#111" stroke-width="0.55"/>
<line x1="369.59999999999997" y1="360.5478912614619" x2="371.4" y2="360.5478912614619" stroke="#111" stroke-width="0.55"/>
<line x1="369.59999999999997" y1="359.51972556026953" x2="371.4" y2="359.51972556026953" stroke="#111" stroke-width="0.55"/>
<line x1="369.59999999999997" y1="352.54929708715395" x2="371.4" y2="352.54929708715395" stroke="#111" stroke-width="0.55"/>
<line x1="369.59999999999997" y1="349.00986278013477" x2="371.4" y2="349.00986278013477" stroke="#111" stroke-width="0.55"/>
<line x1="369.59999999999997" y1="346.4985941743079" x2="371.4" y2="346.4985941743079" stroke="#111" stroke-width="0.55"/>
<line x1="369.59999999999997" y1="344.550702912846" x2="371.4" y2="344.550702912846" stroke="#111" stroke-width="0.55"/>
<line x1="369.59999999999997" y1="342.95915986728875" x2="371.4" y2="342.95915986728875" stroke="#111" stroke-width="0.55"/>
<line x1="369.59999999999997" y1="341.61352939571344" x2="371.4" y2="341.61352939571344" stroke="#111" stroke-width="0.55"/>
<line x1="369.59999999999997" y1="340.4478912614619" x2="371.4" y2="340.4478912614619" stroke="#111" stroke-width="0.55"/>
<line x1="369.59999999999997" y1="339.41972556026957" x2="371.4" y2="339.41972556026957" stroke="#111" stroke-width="0.55"/>
<line x1="369.59999999999997" y1="332.449297087154" x2="371.4" y2="332.449297087154" stroke="#111" stroke-width="0.55"/>
<line x1="369.59999999999997" y1="328.90986278013474" x2="371.4" y2="328.90986278013474" stroke="#111" stroke-width="0.55"/>
<line x1="369.59999999999997" y1="326.39859417430796" x2="371.4" y2="326.39859417430796" stroke="#111" stroke-width="0.55"/>
<line x1="369.59999999999997" y1="324.450702912846" x2="371.4" y2="324.450702912846" stroke="#111" stroke-width="0.55"/>
<line x1="369.59999999999997" y1="322.8591598672888" x2="371.4" y2="322.8591598672888" stroke="#111" stroke-width="0.55"/>
<line x1="369.59999999999997" y1="321.5135293957134" x2="371.4" y2="321.5135293957134" stroke="#111" stroke-width="0.55"/>
<line x1="369.59999999999997" y1="320.34789126146194" x2="371.4" y2="320.34789126146194" stroke="#111" stroke-width="0.55"/>
<line x1="369.59999999999997" y1="319.31972556026955" x2="371.4" y2="319.31972556026955" stroke="#111" stroke-width="0.55"/>
<line x1="369.59999999999997" y1="312.34929708715396" x2="371.4" y2="312.34929708715396" stroke="#111" stroke-width="0.55"/>
<line x1="369.59999999999997" y1="308.8098627801348" x2="371.4" y2="308.8098627801348" stroke="#111" stroke-width="0.55"/>
<line x1="369.59999999999997" y1="306.29859417430794" x2="371.4" y2="306.29859417430794" stroke="#111" stroke-width="0.55"/>
<line x1="369.59999999999997" y1="304.35070291284603" x2="371.4" y2="304.35070291284603" stroke="#111" stroke-width="0.55"/>
<line x1="369.59999999999997" y1="302.75915986728876" x2="371.4" y2="302.75915986728876" stroke="#111" stroke-width="0.55"/>
<line x1="369.59999999999997" y1="301.41352939571345" x2="371.4" y2="301.41352939571345" stroke="#111" stroke-width="0.55"/>
<line x1="369.59999999999997" y1="300.2478912614619" x2="371.4" y2="300.2478912614619" stroke="#111" stroke-width="0.55"/>
<line x1="369.59999999999997" y1="299.2197255602696" x2="371.4" y2="299.2197255602696" stroke="#111" stroke-width="0.55"/>
<rect x="377.2" y="318.6" width="10.1" height="60.099999999999966" fill="#c8102e"/>
<rect x="394.1" y="342.8" width="9.7" height="35.89999999999998" fill="#134f8f"/>
<line x1="382.3" y1="313.2" x2="382.3" y2="324.0" stroke="#111" stroke-width="0.9"/>
<line x1="379.5" y1="313.2" x2="385.1" y2="313.2" stroke="#111" stroke-width="0.9"/>
<line x1="379.5" y1="324.0" x2="385.1" y2="324.0" stroke="#111" stroke-width="0.9"/>
<line x1="399.0" y1="336.0" x2="399.0" y2="348.5" stroke="#111" stroke-width="0.9"/>
<line x1="396.2" y1="336.0" x2="401.8" y2="336.0" stroke="#111" stroke-width="0.9"/>
<line x1="396.2" y1="348.5" x2="401.8" y2="348.5" stroke="#111" stroke-width="0.9"/>
<circle cx="382.0" cy="303.3" r="1.75" fill="#111"/>
<circle cx="378.5" cy="320.7" r="1.75" fill="#111"/>
<circle cx="382.0" cy="319.8" r="1.75" fill="#111"/>
<circle cx="385.9" cy="320.3" r="1.75" fill="#111"/>
<circle cx="382.0" cy="326.0" r="1.75" fill="#111"/>
<circle cx="382.0" cy="334.8" r="1.75" fill="#111"/>
<circle cx="383.8" cy="351.3" r="1.75" fill="#111"/>
<circle cx="380.3" cy="353.9" r="1.75" fill="#111"/>
<circle cx="395.7" cy="337.5" r="1.75" fill="#111"/>
<circle cx="398.7" cy="337.0" r="1.75" fill="#111"/>
<circle cx="402.7" cy="337.0" r="1.75" fill="#111"/>
<circle cx="401.0" cy="341.4" r="1.75" fill="#111"/>
<circle cx="395.7" cy="347.7" r="1.75" fill="#111"/>
<circle cx="399.2" cy="347.7" r="1.75" fill="#111"/>
<circle cx="402.7" cy="347.7" r="1.75" fill="#111"/>
<circle cx="399.2" cy="352.0" r="1.75" fill="#111"/>
<circle cx="398.8" cy="369.0" r="1.75" fill="#111"/>
<line x1="382.3" y1="378.7" x2="382.3" y2="381.3" stroke="#111" stroke-width="0.9"/>
<line x1="399.2" y1="378.7" x2="399.2" y2="381.3" stroke="#111" stroke-width="0.9"/>
<text x="382.4" y="389.7" font-size="8.6" text-anchor="middle" stroke="#231f20" stroke-width="0.22">+/+</text>
<text x="399.2" y="389.7" font-size="8.6" text-anchor="middle" stroke="#231f20" stroke-width="0.22">–/–</text>
<path d="M382.5,297.5 L382.5,294.5 L399.8,294.5 L399.8,297.5" stroke="#111" stroke-width="0.8" fill="none"/>
<text x="390.9" y="292.2" font-size="7.6" text-anchor="middle" stroke="#231f20" stroke-width="0.22" textLength="33.8" lengthAdjust="spacingAndGlyphs"><tspan font-style="italic">p</tspan>=0.0464</text>
<text x="349.4" y="337.5" font-size="9.3" text-anchor="middle" stroke="#231f20" stroke-width="0.22" textLength="92" lengthAdjust="spacingAndGlyphs" transform="rotate(-90 349.4 337.5)">GFP<tspan font-size="6" dy="-3.5" stroke-width="0.08">+</tspan><tspan dy="3.5"> LSK cells per 10</tspan><tspan font-size="6" dy="-3.5" stroke-width="0.08">5</tspan><tspan dy="3.5"> BMC</tspan></text>
<text x="427.8" y="278.4" font-size="11.3" font-weight="bold" fill="#000" stroke="#000" stroke-width="0.35" textLength="10.1" lengthAdjust="spacingAndGlyphs">M</text>
<defs><filter id="bl" x="-50%" y="-50%" width="200%" height="200%"><feGaussianBlur stdDeviation="0.6"/></filter><filter id="bl2" x="-50%" y="-50%" width="200%" height="200%"><feGaussianBlur stdDeviation="2.2"/></filter><clipPath id="m1"><rect x="444" y="289.6" width="65.4" height="50.1"/></clipPath><clipPath id="m2"><rect x="444" y="342.9" width="65.4" height="41.8"/></clipPath></defs>
<rect x="444" y="289.6" width="65.4" height="50.1" fill="#f3e9f3"/>
<rect x="444" y="342.9" width="65.4" height="41.8" fill="#efe0ee"/>
<g clip-path="url(#m1)">
<ellipse cx="503" cy="320" rx="8" ry="11" fill="#d8b4dc" filter="url(#bl2)"/>
<g filter="url(#bl)">
<ellipse cx="461.3" cy="290.6" rx="4" ry="2" fill="#7a62aa"/>
<ellipse cx="472.4" cy="307.6" rx="6.3" ry="6.4" fill="#6452ae"/>
<ellipse cx="477.3" cy="314.9" rx="5.8" ry="5.6" fill="#5846a6"/>
<ellipse cx="463.3" cy="310.2" rx="1.2" ry="1.2" fill="#b07ab0"/>
<ellipse cx="501.8" cy="307.0" rx="4.5" ry="4.3" fill="#8a78b8"/>
<ellipse cx="502.0" cy="307.6" rx="2.2" ry="2.0" fill="#c0b0d8"/>
<ellipse cx="493.3" cy="314.8" rx="2.3" ry="2.1" fill="#a090c8"/>
<ellipse cx="503.1" cy="322.6" rx="2.0" ry="2.0" fill="#30204c"/>
<ellipse cx="474.4" cy="332.4" rx="4.7" ry="4.7" fill="#8a78b8"/>
<ellipse cx="474.6" cy="332.6" rx="2.4" ry="2.4" fill="#a898cc"/>
<ellipse cx="507.0" cy="331.8" rx="2.2" ry="2.2" fill="#6a3a80"/>
<ellipse cx="471.7" cy="339.5" rx="4" ry="2.5" fill="#9a80c0"/>
<ellipse cx="507.6" cy="311.5" rx="1.8" ry="3" fill="#c090c0"/>
</g>
<line x1="468.5" y1="316.5" x2="481.0" y2="305.8" stroke="#f3e9f3" stroke-width="0.7"/>
</g>
<g clip-path="url(#m2)"><g filter="url(#bl)">
<ellipse cx="447.0" cy="344.3" rx="3" ry="2" fill="#7050a0"/>
<ellipse cx="445.6" cy="359.0" rx="3.6" ry="6.5" fill="#b482c0"/>
<ellipse cx="462.0" cy="352.0" rx="8.2" ry="6.8" fill="#bcaad4"/>
<ellipse cx="462.5" cy="351.2" rx="4" ry="3.6" fill="#8a70b0"/>
<ellipse cx="467.8" cy="352.5" rx="1.2" ry="1.2" fill="#202060"/>
<ellipse cx="474.4" cy="356.4" rx="1.4" ry="1.4" fill="#7a5090"/>
<ellipse cx="464.6" cy="364.2" rx="7" ry="6" fill="#c4b4da"/>
<ellipse cx="467.8" cy="361.8" rx="3.4" ry="3" fill="#6a4a98"/>
<ellipse cx="486.1" cy="352.5" rx="8" ry="8" fill="#ddd0e8"/>
<ellipse cx="487.4" cy="355.0" rx="3.4" ry="3" fill="#7a5aa0"/>
<ellipse cx="489.4" cy="369.5" rx="9" ry="8.5" fill="#c8bcde"/>
<ellipse cx="488.1" cy="370.1" rx="4" ry="3.5" fill="#6654a4"/>
<ellipse cx="501.2" cy="369.5" rx="4" ry="4" fill="#9a6aa8"/>
<ellipse cx="505.7" cy="363.6" rx="3.5" ry="3.5" fill="#a878b0"/>
<ellipse cx="472.4" cy="381.9" rx="6" ry="5" fill="#b4a4d2"/>
<ellipse cx="472.4" cy="383.0" rx="3" ry="2.6" fill="#6a50a8"/>
<ellipse cx="483.5" cy="379.3" rx="3.5" ry="3.5" fill="#8a5a98"/>
<ellipse cx="492.0" cy="378.6" rx="3.5" ry="3.5" fill="#9a6aa8"/>
<ellipse cx="500.5" cy="384.5" rx="4.5" ry="4.5" fill="#8a70b0"/>
</g></g>
<text x="439.6" y="315.3" font-size="7.8" text-anchor="middle" stroke="#231f20" stroke-width="0.22" textLength="31" lengthAdjust="spacingAndGlyphs" transform="rotate(-90 439.6 315.3)">Plcg1<tspan font-size="6" dy="-3.4" stroke-width="0.08">+/+</tspan></text>
<text x="439.6" y="364.8" font-size="7.8" text-anchor="middle" stroke="#231f20" stroke-width="0.22" textLength="31" lengthAdjust="spacingAndGlyphs" transform="rotate(-90 439.6 364.8)">Plcg1<tspan font-size="6" dy="-3.4" stroke-width="0.08">–/–</tspan></text>
<text x="6.6" y="415.4" font-size="11.3" font-weight="bold" fill="#000" stroke="#000" stroke-width="0.35">N</text>
<line x1="38.4" y1="425.6" x2="38.4" y2="530.8000000000001" stroke="#111" stroke-width="1.3"/>
<line x1="37.8" y1="530.2" x2="153.3" y2="530.2" stroke="#111" stroke-width="1.3"/>
<line x1="35.4" y1="530.2" x2="38.4" y2="530.2" stroke="#111" stroke-width="0.9"/>
<text x="32.5" y="533.0" font-size="7.8" text-anchor="end" stroke="#231f20" stroke-width="0.22">0</text>
<line x1="35.4" y1="509.6" x2="38.4" y2="509.6" stroke="#111" stroke-width="0.9"/>
<text x="32.5" y="512.4" font-size="7.8" text-anchor="end" stroke="#231f20" stroke-width="0.22">20</text>
<line x1="35.4" y1="489.00000000000006" x2="38.4" y2="489.00000000000006" stroke="#111" stroke-width="0.9"/>
<text x="32.5" y="491.80000000000007" font-size="7.8" text-anchor="end" stroke="#231f20" stroke-width="0.22">40</text>
<line x1="35.4" y1="468.40000000000003" x2="38.4" y2="468.40000000000003" stroke="#111" stroke-width="0.9"/>
<text x="32.5" y="471.20000000000005" font-size="7.8" text-anchor="end" stroke="#231f20" stroke-width="0.22">60</text>
<line x1="35.4" y1="447.80000000000007" x2="38.4" y2="447.80000000000007" stroke="#111" stroke-width="0.9"/>
<text x="32.5" y="450.6000000000001" font-size="7.8" text-anchor="end" stroke="#231f20" stroke-width="0.22">80</text>
<line x1="35.4" y1="427.20000000000005" x2="38.4" y2="427.20000000000005" stroke="#111" stroke-width="0.9"/>
<text x="32.5" y="430.00000000000006" font-size="7.8" text-anchor="end" stroke="#231f20" stroke-width="0.22">100</text>
<text x="13.4" y="479.4" font-size="9.5" text-anchor="middle" stroke="#231f20" stroke-width="0.22" textLength="92" lengthAdjust="spacingAndGlyphs" transform="rotate(-90 13.4 479.4)">% of cells in cell cycle phase</text>
<rect x="43.8" y="521.8" width="9.300000000000004" height="8.400000000000091" fill="#e27d91"/>
<rect x="58.9" y="510.7" width="9.300000000000004" height="19.500000000000057" fill="#7da0c3"/>
<rect x="84.1" y="457.2" width="8.900000000000006" height="73.00000000000006" fill="#e27d91"/>
<rect x="99.2" y="482.4" width="8.799999999999997" height="47.80000000000007" fill="#7da0c3"/>
<rect x="124.4" y="517.8" width="8.400000000000006" height="12.400000000000091" fill="#e27d91"/>
<rect x="139.0" y="517.0" width="9.199999999999989" height="13.200000000000045" fill="#7da0c3"/>
<line x1="48.45" y1="518.5" x2="48.45" y2="525" stroke="#222" stroke-width="0.9"/>
<line x1="46.25" y1="518.5" x2="50.650000000000006" y2="518.5" stroke="#222" stroke-width="0.9"/>
<line x1="46.25" y1="525" x2="50.650000000000006" y2="525" stroke="#222" stroke-width="0.9"/>
<line x1="48.45" y1="530.2" x2="48.45" y2="532.8000000000001" stroke="#111" stroke-width="0.9"/>
<line x1="63.55" y1="508.5" x2="63.55" y2="513.5" stroke="#222" stroke-width="0.9"/>
<line x1="61.349999999999994" y1="508.5" x2="65.75" y2="508.5" stroke="#222" stroke-width="0.9"/>
<line x1="61.349999999999994" y1="513.5" x2="65.75" y2="513.5" stroke="#222" stroke-width="0.9"/>
<line x1="63.55" y1="530.2" x2="63.55" y2="532.8000000000001" stroke="#111" stroke-width="0.9"/>
<line x1="88.55" y1="450.5" x2="88.55" y2="461.6" stroke="#222" stroke-width="0.9"/>
<line x1="86.35" y1="450.5" x2="90.75" y2="450.5" stroke="#222" stroke-width="0.9"/>
<line x1="86.35" y1="461.6" x2="90.75" y2="461.6" stroke="#222" stroke-width="0.9"/>
<line x1="88.55" y1="530.2" x2="88.55" y2="532.8000000000001" stroke="#111" stroke-width="0.9"/>
<line x1="103.6" y1="472.7" x2="103.6" y2="493.0" stroke="#222" stroke-width="0.9"/>
<line x1="101.39999999999999" y1="472.7" x2="105.8" y2="472.7" stroke="#222" stroke-width="0.9"/>
<line x1="101.39999999999999" y1="493.0" x2="105.8" y2="493.0" stroke="#222" stroke-width="0.9"/>
<line x1="103.6" y1="530.2" x2="103.6" y2="532.8000000000001" stroke="#111" stroke-width="0.9"/>
<line x1="128.60000000000002" y1="514.4" x2="128.60000000000002" y2="521" stroke="#222" stroke-width="0.9"/>
<line x1="126.40000000000002" y1="514.4" x2="130.8" y2="514.4" stroke="#222" stroke-width="0.9"/>
<line x1="126.40000000000002" y1="521" x2="130.8" y2="521" stroke="#222" stroke-width="0.9"/>
<line x1="128.60000000000002" y1="530.2" x2="128.60000000000002" y2="532.8000000000001" stroke="#111" stroke-width="0.9"/>
<line x1="143.6" y1="510.4" x2="143.6" y2="525" stroke="#222" stroke-width="0.9"/>
<line x1="141.4" y1="510.4" x2="145.79999999999998" y2="510.4" stroke="#222" stroke-width="0.9"/>
<line x1="141.4" y1="525" x2="145.79999999999998" y2="525" stroke="#222" stroke-width="0.9"/>
<line x1="143.6" y1="530.2" x2="143.6" y2="532.8000000000001" stroke="#111" stroke-width="0.9"/>
<circle cx="45.4" cy="516.7" r="2.05" fill="#d0103a"/>
<circle cx="50.9" cy="516.7" r="2.05" fill="#d0103a"/>
<circle cx="47.8" cy="520.7" r="2.05" fill="#d0103a"/>
<circle cx="50.5" cy="522.2" r="2.05" fill="#d0103a"/>
<circle cx="48.7" cy="527.3" r="2.05" fill="#d0103a"/>
<circle cx="85.9" cy="443.2" r="2.05" fill="#d0103a"/>
<circle cx="84.8" cy="447.7" r="2.05" fill="#d0103a"/>
<circle cx="88.5" cy="448.3" r="2.05" fill="#d0103a"/>
<circle cx="91.4" cy="452.0" r="2.05" fill="#d0103a"/>
<circle cx="88.5" cy="469.1" r="2.05" fill="#d0103a"/>
<circle cx="88.5" cy="477.1" r="2.05" fill="#d0103a"/>
<circle cx="128.2" cy="508.3" r="2.05" fill="#d0103a"/>
<circle cx="125.6" cy="517.8" r="2.05" fill="#d0103a"/>
<circle cx="128.7" cy="519.1" r="2.05" fill="#d0103a"/>
<circle cx="131.3" cy="520.4" r="2.05" fill="#d0103a"/>
<circle cx="128.2" cy="523.0" r="2.05" fill="#d0103a"/>
<circle cx="63.3" cy="501.9" r="2.05" fill="#0d4f8b"/>
<circle cx="60.4" cy="507.4" r="2.05" fill="#0d4f8b"/>
<circle cx="66.0" cy="507.4" r="2.05" fill="#0d4f8b"/>
<circle cx="60.4" cy="511.2" r="2.05" fill="#0d4f8b"/>
<circle cx="66.0" cy="511.2" r="2.05" fill="#0d4f8b"/>
<circle cx="63.3" cy="517.3" r="2.05" fill="#0d4f8b"/>
<circle cx="103.6" cy="453.8" r="2.05" fill="#0d4f8b"/>
<circle cx="103.6" cy="460.5" r="2.05" fill="#0d4f8b"/>
<circle cx="100.3" cy="484.6" r="2.05" fill="#0d4f8b"/>
<circle cx="104.0" cy="484.6" r="2.05" fill="#0d4f8b"/>
<circle cx="106.9" cy="484.6" r="2.05" fill="#0d4f8b"/>
<circle cx="103.6" cy="513.4" r="2.05" fill="#0d4f8b"/>
<circle cx="143.6" cy="496.0" r="2.05" fill="#0d4f8b"/>
<circle cx="143.6" cy="507.0" r="2.05" fill="#0d4f8b"/>
<circle cx="142.3" cy="511.4" r="2.05" fill="#0d4f8b"/>
<circle cx="141.0" cy="523.5" r="2.05" fill="#0d4f8b"/>
<circle cx="146.2" cy="523.5" r="2.05" fill="#0d4f8b"/>
<circle cx="141.0" cy="530.6" r="2.05" fill="#0d4f8b"/>
<text x="55.4" y="542.8" font-size="8.4" text-anchor="middle" stroke="#231f20" stroke-width="0.22" textLength="9.9" lengthAdjust="spacingAndGlyphs">G0</text>
<text x="97.0" y="542.8" font-size="8.4" text-anchor="middle" stroke="#231f20" stroke-width="0.22" textLength="9.9" lengthAdjust="spacingAndGlyphs">G1</text>
<text x="136.2" y="542.8" font-size="8.4" text-anchor="middle" stroke="#231f20" stroke-width="0.22" textLength="28.4" lengthAdjust="spacingAndGlyphs">G2/S/M</text>
<path d="M47.9,437.2 L47.9,432.8 L64.5,432.8 L64.5,437.2" stroke="#222" stroke-width="0.9" fill="none"/>
<path d="M86.5,437.3 L86.5,433.7 L102.5,433.7 L102.5,437.3" stroke="#222" stroke-width="0.9" fill="none"/>
<path d="M127.0,489.1 L127.0,485.8 L143.6,485.8 L143.6,489.1" stroke="#222" stroke-width="0.9" fill="none"/>
<text x="58.3" y="430.3" font-size="7.6" text-anchor="middle" stroke="#231f20" stroke-width="0.22" textLength="31.3" lengthAdjust="spacingAndGlyphs"><tspan font-style="italic">p</tspan>=0.0087</text>
<text x="96.4" y="430.3" font-size="7.6" text-anchor="middle" stroke="#231f20" stroke-width="0.22" textLength="27.6" lengthAdjust="spacingAndGlyphs"><tspan font-style="italic">p</tspan>=0.026</text>
<text x="134.6" y="481.4" font-size="6.6" text-anchor="middle" stroke="#231f20" stroke-width="0.05">n.s.</text>
<circle cx="127.7" cy="430.1" r="2.1" fill="#d0103a"/>
<circle cx="127.7" cy="442.2" r="2.1" fill="#0d4f8b"/>
<text x="132.0" y="432.9" font-size="7.6" stroke="#231f20" stroke-width="0.22">Plcg1<tspan font-size="6" dy="-3.4" stroke-width="0.08">+/+</tspan></text>
<text x="132.0" y="444.9" font-size="7.6" stroke="#231f20" stroke-width="0.22">Plcg1<tspan font-size="6" dy="-3.4" stroke-width="0.08">–/–</tspan></text>
<text x="182.6" y="415.4" font-size="11" font-weight="bold" fill="#000" stroke="#000" stroke-width="0.35">O</text>
<line x1="214.3" y1="428.5" x2="214.3" y2="508.6" stroke="#111" stroke-width="1.3"/>
<line x1="213.70000000000002" y1="508.0" x2="334.6" y2="508.0" stroke="#111" stroke-width="1.3"/>
<line x1="211.5" y1="508.0" x2="214.3" y2="508.0" stroke="#111" stroke-width="0.9"/>
<text x="208.7" y="510.6" font-size="8.1" text-anchor="end" stroke="#231f20" stroke-width="0.22">0</text>
<line x1="211.5" y1="471.6" x2="214.3" y2="471.6" stroke="#111" stroke-width="0.9"/>
<text x="208.7" y="474.20000000000005" font-size="8.1" text-anchor="end" stroke="#231f20" stroke-width="0.22">50</text>
<line x1="211.5" y1="435.2" x2="214.3" y2="435.2" stroke="#111" stroke-width="0.9"/>
<text x="208.7" y="437.8" font-size="8.1" text-anchor="end" stroke="#231f20" stroke-width="0.22">100</text>
<line x1="214.4" y1="508.0" x2="214.4" y2="510.6" stroke="#111" stroke-width="0.9"/>
<text x="214.4" y="520.2" font-size="8.0" text-anchor="middle" stroke="#231f20" stroke-width="0.22" textLength="4.15" lengthAdjust="spacingAndGlyphs">0</text>
<line x1="254.2" y1="508.0" x2="254.2" y2="510.6" stroke="#111" stroke-width="0.9"/>
<text x="254.2" y="520.2" font-size="8.0" text-anchor="middle" stroke="#231f20" stroke-width="0.22" textLength="8.3" lengthAdjust="spacingAndGlyphs">50</text>
<line x1="294.6" y1="508.0" x2="294.6" y2="510.6" stroke="#111" stroke-width="0.9"/>
<text x="294.6" y="520.2" font-size="8.0" text-anchor="middle" stroke="#231f20" stroke-width="0.22" textLength="12.450000000000001" lengthAdjust="spacingAndGlyphs">100</text>
<line x1="328.5" y1="508.0" x2="328.5" y2="510.6" stroke="#111" stroke-width="0.9"/>
<text x="328.5" y="520.2" font-size="8.0" text-anchor="middle" stroke="#231f20" stroke-width="0.22" textLength="12.450000000000001" lengthAdjust="spacingAndGlyphs">150</text>
<text x="274.4" y="532.1" font-size="9.3" text-anchor="middle" stroke="#231f20" stroke-width="0.22" textLength="15.5" lengthAdjust="spacingAndGlyphs">Days</text>
<text x="190.9" y="467.0" font-size="9.3" text-anchor="middle" stroke="#231f20" stroke-width="0.22" textLength="53.7" lengthAdjust="spacingAndGlyphs" transform="rotate(-90 190.9 467.0)">Percent survival</text>
<path d="M214.3,435.2 L309.8,435.2" stroke="#22558f" stroke-width="1.3" fill="none"/>
<line x1="260.3" y1="433.8" x2="260.3" y2="435.2" stroke="#111" stroke-width="0.7"/>
<line x1="273.0" y1="433.8" x2="273.0" y2="435.2" stroke="#111" stroke-width="0.7"/>
<path d="M214.3,435.2 L221.0,435.2 L221.0,441.0 L221.9,441.0 L221.9,455.0 L222.4,455.0 L222.4,467.0 L223.3,467.0 L223.3,474.0 L225.9,474.0 L225.9,480.6 L227.6,480.6 L227.6,487.6 L235.0,487.6 L235.0,494.8 L242.9,494.8 L242.9,501.4 L261.0,501.4 L261.0,508.0" stroke="#d01c3e" stroke-width="1.3" fill="none"/>
<line x1="268.8" y1="450.6" x2="277.3" y2="450.6" stroke="#22558f" stroke-width="1.3"/>
<line x1="268.8" y1="461.6" x2="277.3" y2="461.6" stroke="#d01c3e" stroke-width="1.3"/>
<line x1="273.0" y1="449.6" x2="273.0" y2="450.6" stroke="#111" stroke-width="0.8"/>
<line x1="273.0" y1="460.6" x2="273.0" y2="461.6" stroke="#111" stroke-width="0.8"/>
<text x="280.5" y="452.9" font-size="7.6" stroke="#231f20" stroke-width="0.22" textLength="48.8" lengthAdjust="spacingAndGlyphs">Plcg1<tspan font-size="6" dy="-3.4" stroke-width="0.08">–/–</tspan><tspan dy="3.3"> (</tspan><tspan font-style="italic">n</tspan>=10)</text>
<text x="280.5" y="463.5" font-size="7.6" stroke="#231f20" stroke-width="0.22" textLength="48.8" lengthAdjust="spacingAndGlyphs">Plcg1<tspan font-size="6" dy="-3.4" stroke-width="0.08">+/+</tspan><tspan dy="3.3"> (</tspan><tspan font-style="italic">n</tspan>=11)</text>
<text x="280.9" y="489.6" font-size="7.6" stroke="#231f20" stroke-width="0.22" textLength="31.4" lengthAdjust="spacingAndGlyphs"><tspan font-style="italic">p</tspan>=0.0001</text>
<text x="358.8" y="415.7" font-size="11.3" font-weight="bold" fill="#000" stroke="#000" stroke-width="0.35">P</text>
<line x1="395.1" y1="443.4" x2="395.1" y2="507.1" stroke="#111" stroke-width="1.3"/>
<line x1="394.5" y1="506.5" x2="467.8" y2="506.5" stroke="#111" stroke-width="1.3"/>
<line x1="392.1" y1="506.5" x2="395.1" y2="506.5" stroke="#111" stroke-width="0.9"/>
<text x="389.3" y="509.3" font-size="7.8" text-anchor="end" stroke="#231f20" stroke-width="0.22">0</text>
<line x1="392.1" y1="485.87" x2="395.1" y2="485.87" stroke="#111" stroke-width="0.9"/>
<text x="389.3" y="488.67" font-size="7.8" text-anchor="end" stroke="#231f20" stroke-width="0.22">10</text>
<line x1="392.1" y1="465.24" x2="395.1" y2="465.24" stroke="#111" stroke-width="0.9"/>
<text x="389.3" y="468.04" font-size="7.8" text-anchor="end" stroke="#231f20" stroke-width="0.22">20</text>
<line x1="392.1" y1="444.61" x2="395.1" y2="444.61" stroke="#111" stroke-width="0.9"/>
<text x="389.3" y="447.41" font-size="7.8" text-anchor="end" stroke="#231f20" stroke-width="0.22">30</text>
<text x="374.5" y="475.6" font-size="9.5" text-anchor="middle" stroke="#231f20" stroke-width="0.22" textLength="65.8" lengthAdjust="spacingAndGlyphs" transform="rotate(-90 374.5 475.6)">Colony count / plate</text>
<rect x="403.1" y="465.4" width="13.899999999999977" height="41.10000000000002" fill="#c8102e"/>
<rect x="425.0" y="492.4" width="13.899999999999977" height="14.100000000000023" fill="#16508e"/>
<rect x="447.0" y="502.8" width="13.399999999999977" height="3.6999999999999886" fill="#3cbf4a"/>
<line x1="410.05" y1="458.4" x2="410.05" y2="473.4" stroke="#111" stroke-width="0.9"/>
<line x1="407.45" y1="458.4" x2="412.65000000000003" y2="458.4" stroke="#111" stroke-width="0.9"/>
<line x1="407.45" y1="473.4" x2="412.65000000000003" y2="473.4" stroke="#111" stroke-width="0.9"/>
<line x1="410.05" y1="506.5" x2="410.05" y2="509.1" stroke="#111" stroke-width="0.9"/>
<line x1="431.95" y1="485.5" x2="431.95" y2="498.6" stroke="#111" stroke-width="0.9"/>
<line x1="429.34999999999997" y1="485.5" x2="434.55" y2="485.5" stroke="#111" stroke-width="0.9"/>
<line x1="429.34999999999997" y1="498.6" x2="434.55" y2="498.6" stroke="#111" stroke-width="0.9"/>
<line x1="431.95" y1="506.5" x2="431.95" y2="509.1" stroke="#111" stroke-width="0.9"/>
<line x1="453.7" y1="496.5" x2="453.7" y2="506.7" stroke="#111" stroke-width="0.9"/>
<line x1="451.09999999999997" y1="496.5" x2="456.3" y2="496.5" stroke="#111" stroke-width="0.9"/>
<line x1="451.09999999999997" y1="506.7" x2="456.3" y2="506.7" stroke="#111" stroke-width="0.9"/>
<line x1="453.7" y1="506.5" x2="453.7" y2="509.1" stroke="#111" stroke-width="0.9"/>
<circle cx="409.6" cy="455.4" r="1.3" fill="#111"/>
<circle cx="406.6" cy="465.4" r="1.3" fill="#111"/>
<circle cx="412.4" cy="465.4" r="1.3" fill="#111"/>
<circle cx="409.6" cy="469.3" r="1.3" fill="#111"/>
<circle cx="407.7" cy="473.4" r="1.3" fill="#111"/>
<circle cx="410.5" cy="473.9" r="1.3" fill="#111"/>
<circle cx="431.3" cy="482.0" r="1.3" fill="#111"/>
<circle cx="430.8" cy="492.8" r="1.3" fill="#111"/>
<circle cx="428.5" cy="497.0" r="1.3" fill="#111"/>
<circle cx="433.6" cy="497.5" r="1.3" fill="#111"/>
<circle cx="454.0" cy="492.4" r="1.3" fill="#111"/>
<circle cx="448.2" cy="501.2" r="1.3" fill="#111"/>
<circle cx="452.8" cy="501.6" r="1.3" fill="#111"/>
<circle cx="460.4" cy="501.6" r="1.3" fill="#111"/>
<circle cx="454.4" cy="506.2" r="1.3" fill="#111"/>
<line x1="405.4" y1="449.7" x2="432.7" y2="449.7" stroke="#444" stroke-width="0.9"/>
<line x1="410.5" y1="436.5" x2="455.0" y2="436.5" stroke="#444" stroke-width="0.9"/>
<text x="405.0" y="448.0" font-size="7.6" stroke="#231f20" stroke-width="0.22" textLength="32.3" lengthAdjust="spacingAndGlyphs"><tspan font-style="italic">p</tspan>=0.0007</text>
<text x="416.5" y="433.0" font-size="7.6" stroke="#231f20" stroke-width="0.22" textLength="31.2" lengthAdjust="spacingAndGlyphs"><tspan font-style="italic">p</tspan>&lt;0.0001</text>
<rect x="467.5" y="444.2" width="3.1" height="2.9" fill="#c8102e"/>
<rect x="467.5" y="454.4" width="3.1" height="2.9" fill="#16508e"/>
<rect x="467.5" y="464.0" width="3.1" height="2.9" fill="#3cbf4a"/>
<text x="473.8" y="447.7" font-size="6.8" stroke="#231f20" stroke-width="0.22" textLength="20.8" lengthAdjust="spacingAndGlyphs">shSCR</text>
<text x="473.8" y="457.5" font-size="6.8" stroke="#231f20" stroke-width="0.22" textLength="36.7" lengthAdjust="spacingAndGlyphs">shPLCG1-1</text>
<text x="473.8" y="467.5" font-size="6.8" stroke="#231f20" stroke-width="0.22" textLength="36.7" lengthAdjust="spacingAndGlyphs">shPLCG1-2</text>
<rect x="0.5" y="0.5" width="519" height="564" fill="none" stroke="#000" stroke-width="1.1"/>
</svg></body></html>
